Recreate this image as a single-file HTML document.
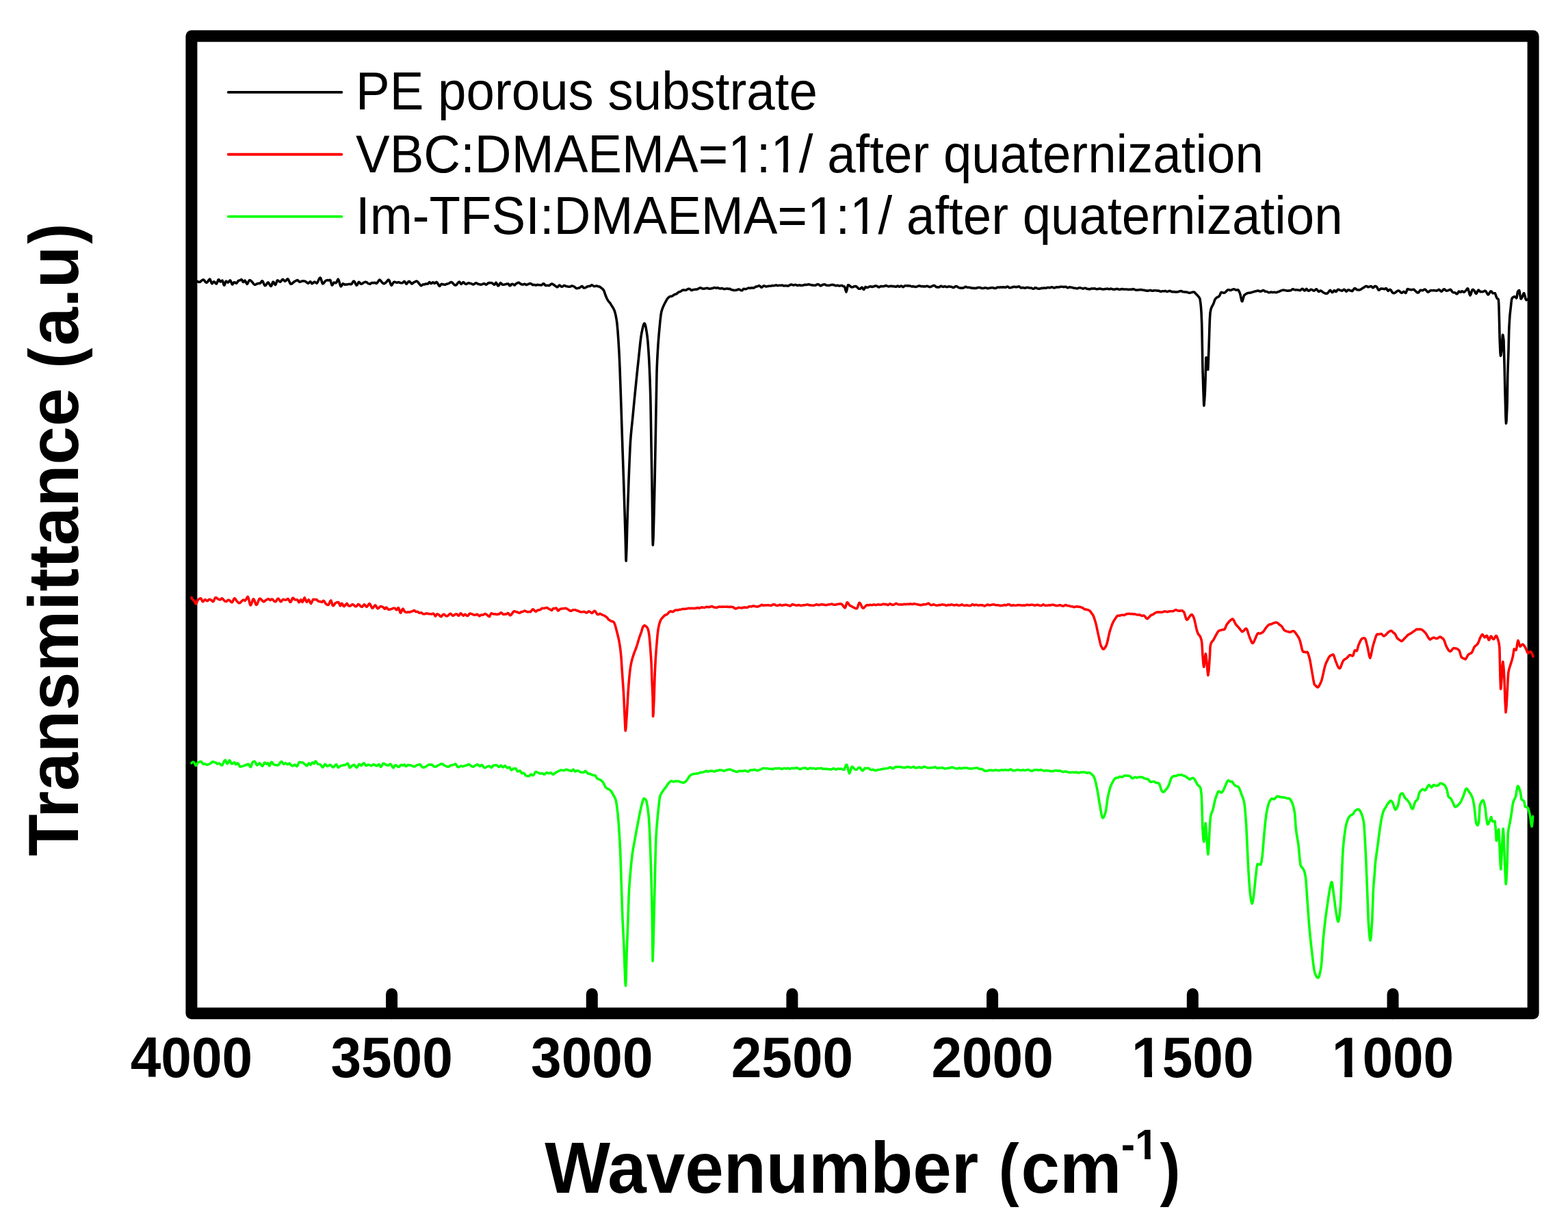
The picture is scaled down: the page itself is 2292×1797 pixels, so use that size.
<!DOCTYPE html>
<html><head><meta charset="utf-8"><title>FTIR</title>
<style>
html,body{margin:0;padding:0;background:#fff;width:2292px;height:1797px;overflow:hidden}
svg{display:block}
.reg{font-family:"Liberation Sans",Arial,sans-serif;font-weight:400}
.bold{font-family:"Liberation Sans",Arial,sans-serif;font-weight:700}
</style></head><body>
<svg width="2292" height="1797" viewBox="0 0 2292 1797">
<rect x="0" y="0" width="2292" height="1797" fill="#fff"/>
<g fill="none" stroke="#000" stroke-width="17" stroke-linejoin="round" stroke-linecap="round">
<rect x="279.9" y="52.8" width="1961.2" height="1428.9"/>
<line x1="572.6" y1="1481.7" x2="572.6" y2="1453.5"/><line x1="865.3" y1="1481.7" x2="865.3" y2="1453.5"/><line x1="1157.9" y1="1481.7" x2="1157.9" y2="1453.5"/><line x1="1450.6" y1="1481.7" x2="1450.6" y2="1453.5"/><line x1="1743.3" y1="1481.7" x2="1743.3" y2="1453.5"/><line x1="2036.0" y1="1481.7" x2="2036.0" y2="1453.5"/>
</g>
<g fill="none" stroke-width="3.6" stroke-linejoin="round" stroke-linecap="round">
<path stroke="#000" d="M280.0 410.8L281.0 410.9 282.0 411.2 283.0 411.6 284.0 411.9 285.0 412.0 286.0 411.9 287.0 411.7 288.0 411.5 288.3 411.4 289.0 411.5 290.0 412.2 291.0 412.5 292.0 412.3 293.0 411.8 294.0 410.9 295.0 410.0 296.0 409.4 297.0 409.0 298.0 409.3 299.0 410.5 300.0 411.9 301.0 412.9 301.6 413.2 302.0 413.2 303.0 412.6 304.0 411.3 305.0 409.9 306.0 408.7 306.6 408.2 307.0 408.4 308.0 410.7 309.0 413.5 309.8 414.7 310.0 414.7 311.0 413.7 312.0 412.2 312.6 411.8 313.0 411.8 314.0 412.6 315.0 413.9 316.0 414.9 316.3 415.0 317.0 414.2 318.0 411.6 319.0 409.2 319.5 408.8 320.0 409.0 321.0 410.6 322.0 411.9 322.2 412.0 323.0 411.6 324.0 410.6 325.0 410.1 326.0 412.4 327.0 416.2 327.7 417.1 328.0 417.0 329.0 414.5 330.0 411.6 330.5 411.2 331.0 411.5 332.0 412.4 333.0 413.1 333.2 413.1 334.0 412.5 335.0 411.1 336.0 410.0 336.4 409.8 337.0 410.5 338.0 412.8 339.0 415.2 339.7 415.9 340.0 415.9 341.0 414.3 342.0 412.7 342.4 412.7 343.0 412.8 344.0 413.4 345.0 414.1 345.6 414.1 346.0 413.9 347.0 412.6 348.0 410.9 348.8 410.3 349.0 410.3 350.0 410.1 351.0 409.8 352.0 409.2 353.0 408.6 354.0 409.8 355.0 412.0 355.7 412.5 356.0 412.5 357.0 411.0 358.0 410.1 359.0 411.6 360.0 413.8 361.0 415.2 361.2 415.3 362.0 414.3 363.0 412.4 364.0 410.5 364.9 409.6 365.0 409.6 366.0 409.9 367.0 410.6 368.0 411.7 369.0 412.9 370.0 414.2 371.0 415.4 372.0 416.2 372.7 416.3 373.0 416.3 374.0 415.9 375.0 415.4 376.0 414.8 376.4 414.7 377.0 414.5 378.0 414.4 379.0 414.4 380.0 414.3 381.0 413.4 382.0 411.9 383.0 410.8 383.3 410.8 384.0 411.3 385.0 413.3 386.0 415.8 387.0 417.4 387.4 417.6 388.0 417.4 389.0 416.4 390.0 414.9 391.0 413.5 392.0 412.9 393.0 414.0 394.0 415.8 395.0 417.5 396.0 418.5 396.1 418.5 397.0 417.3 398.0 414.4 399.0 412.2 399.3 412.1 400.0 412.6 401.0 414.6 402.0 416.2 402.5 416.4 403.0 415.9 404.0 413.3 405.0 410.5 405.7 409.8 406.0 410.0 407.0 410.6 408.0 411.4 409.0 412.0 409.9 412.1 410.0 412.0 411.0 411.0 412.0 409.5 413.0 408.5 413.5 408.6 414.0 408.7 415.0 409.8 416.0 411.0 416.8 411.1 417.0 411.1 418.0 410.3 419.0 409.1 420.0 408.1 420.4 407.9 421.0 408.2 422.0 409.8 423.0 412.0 424.0 414.1 425.0 415.3 426.0 415.1 427.0 414.5 428.0 413.7 429.0 412.8 430.0 411.9 430.5 411.6 431.0 411.4 432.0 410.9 433.0 410.3 434.0 409.8 435.0 409.6 435.1 409.6 436.0 410.3 437.0 411.6 437.9 412.2 438.0 412.2 439.0 411.9 440.0 411.7 441.0 411.3 442.0 411.0 443.0 410.9 443.4 410.9 444.0 410.9 445.0 411.1 446.0 411.3 447.0 411.8 448.0 412.6 449.0 413.5 450.0 414.1 450.7 414.2 451.0 414.1 452.0 412.9 453.0 411.9 453.5 411.8 454.0 412.0 455.0 413.6 456.0 414.7 456.2 414.7 457.0 414.2 458.0 413.3 459.0 412.4 459.9 412.1 460.0 412.1 461.0 412.8 462.0 413.7 463.0 414.1 463.1 414.1 464.0 413.1 465.0 411.0 466.0 408.7 467.0 406.9 468.0 406.1 468.2 406.1 469.0 407.2 470.0 410.5 471.0 413.7 471.8 414.9 472.0 414.9 473.0 414.2 474.0 412.9 475.0 411.6 476.0 410.6 476.4 410.4 477.0 410.1 478.0 409.8 479.0 409.6 480.0 410.0 481.0 409.8 482.0 409.2 482.3 409.2 483.0 410.0 484.0 413.5 485.0 416.6 485.5 417.0 486.0 416.6 487.0 414.8 488.0 413.1 488.7 413.1 489.0 413.3 490.0 413.6 491.0 413.6 491.5 413.3 492.0 412.6 493.0 410.4 494.0 408.4 494.2 408.2 495.0 409.4 496.0 412.5 497.0 416.1 498.0 418.5 498.4 418.8 499.0 418.4 500.0 416.5 501.0 414.8 501.6 414.8 502.0 414.8 503.0 415.6 504.0 416.2 504.3 416.2 505.0 416.0 506.0 416.0 507.0 416.0 508.0 415.7 509.0 415.5 510.0 415.5 511.0 415.4 512.0 415.5 513.0 415.8 514.0 415.2 515.0 413.6 516.0 411.9 517.0 411.0 517.2 411.0 518.0 411.7 519.0 413.5 520.0 415.5 521.0 417.0 521.3 417.2 522.0 416.6 523.0 414.8 524.0 412.9 524.5 412.3 525.0 412.4 526.0 413.5 527.0 414.6 527.3 414.9 528.0 415.3 529.0 415.1 530.0 414.4 531.0 413.6 532.0 413.0 533.0 412.5 533.2 412.5 534.0 412.3 535.0 412.3 536.0 412.7 537.0 413.6 538.0 414.4 539.0 414.8 540.0 415.1 540.6 415.3 541.0 415.2 542.0 414.5 543.0 413.7 544.0 413.4 544.2 413.4 545.0 413.6 546.0 413.7 547.0 413.4 548.0 413.3 549.0 413.9 549.8 414.4 550.0 414.5 551.0 414.0 552.0 412.7 553.0 411.1 554.0 409.7 554.8 409.1 555.0 409.1 556.0 409.9 557.0 411.1 558.0 412.4 559.0 413.4 560.0 414.3 560.3 414.5 561.0 414.7 562.0 414.6 563.0 413.8 564.0 413.0 564.4 412.7 565.0 412.2 566.0 410.8 567.0 409.5 568.0 409.1 568.1 409.2 569.0 410.2 570.0 412.7 571.0 415.3 572.0 417.0 572.2 417.2 573.0 416.7 574.0 414.9 575.0 413.1 575.5 412.7 576.0 412.4 577.0 412.3 578.0 412.5 579.0 413.0 580.0 413.3 581.0 413.2 582.0 412.7 583.0 412.6 584.0 413.1 585.0 413.6 586.0 413.8 587.0 413.8 587.8 413.8 588.0 413.8 589.0 413.1 590.0 412.0 591.0 411.4 591.1 411.4 592.0 412.5 593.0 414.1 594.0 415.2 594.3 415.2 595.0 414.5 596.0 413.1 597.0 411.8 597.9 411.4 598.0 411.4 599.0 411.9 600.0 413.0 601.0 414.2 602.0 415.0 602.1 415.0 603.0 414.4 604.0 413.5 605.0 412.8 606.0 412.4 607.0 411.9 607.6 411.5 608.0 411.2 609.0 411.1 610.0 411.6 611.0 412.5 612.0 413.8 613.0 415.1 614.0 416.4 615.0 417.5 615.4 417.7 616.0 417.6 617.0 416.9 618.0 416.1 619.0 415.9 619.5 415.9 620.0 416.0 621.0 415.7 622.0 415.1 623.0 414.9 624.0 415.2 625.0 415.3 626.0 414.4 627.0 413.1 627.8 412.6 628.0 412.6 629.0 413.7 630.0 414.6 630.1 414.6 631.0 414.3 632.0 413.2 632.8 412.8 633.0 412.8 634.0 413.5 635.0 414.4 635.1 414.4 636.0 414.1 637.0 413.1 637.9 412.5 638.0 412.4 639.0 413.2 640.0 414.8 641.0 416.6 642.0 418.0 642.5 418.4 643.0 418.1 644.0 416.6 645.0 415.4 645.2 415.2 646.0 415.3 647.0 415.8 648.0 415.9 649.0 416.0 650.0 416.2 651.0 416.1 652.0 415.6 652.6 415.3 653.0 415.2 654.0 415.0 655.0 414.7 656.0 414.3 657.0 413.8 658.0 413.1 659.0 412.6 660.0 412.5 661.0 413.0 662.0 414.1 663.0 415.3 664.0 416.3 665.0 416.9 666.0 417.0 666.3 417.0 667.0 416.6 668.0 415.5 669.0 414.1 670.0 412.9 671.0 412.2 671.4 412.1 672.0 412.5 673.0 414.2 674.0 415.4 674.1 415.4 675.0 414.8 676.0 413.8 677.0 412.8 677.3 412.6 678.0 412.9 679.0 414.1 680.0 415.0 681.0 415.4 682.0 415.4 683.0 414.7 684.0 414.0 685.0 413.8 686.0 414.0 687.0 414.3 688.0 414.5 688.7 414.7 689.0 414.8 690.0 415.2 691.0 415.8 691.9 416.0 692.0 416.0 693.0 415.5 694.0 414.8 695.0 414.0 695.1 414.0 696.0 413.7 697.0 414.1 698.0 414.8 699.0 415.4 699.7 415.5 700.0 415.5 701.0 415.7 702.0 416.0 703.0 416.2 704.0 416.0 705.0 415.5 706.0 415.1 707.0 414.8 707.5 414.7 708.0 414.6 709.0 415.3 710.0 416.0 710.3 416.0 711.0 416.1 712.0 415.4 713.0 414.4 714.0 413.6 714.9 413.5 715.0 413.5 716.0 413.6 717.0 413.5 718.0 413.5 718.5 413.6 719.0 413.8 720.0 414.5 721.0 415.2 722.0 416.0 722.7 416.2 723.0 416.0 724.0 414.5 725.0 413.2 726.0 414.2 727.0 416.4 728.0 417.9 728.2 417.9 729.0 417.6 730.0 415.8 731.0 414.1 731.9 413.7 732.0 413.8 733.0 414.6 734.0 415.8 735.0 416.3 735.1 416.3 736.0 416.2 737.0 416.1 738.0 415.9 738.7 415.7 739.0 415.7 740.0 415.3 741.0 415.1 742.0 415.0 743.0 415.0 743.3 415.1 744.0 416.1 745.0 417.8 745.2 417.8 746.0 417.6 747.0 416.3 748.0 415.4 748.4 415.3 749.0 415.3 750.0 415.6 751.0 416.3 752.0 417.0 752.1 417.0 753.0 416.3 754.0 415.2 755.0 414.4 755.3 414.3 756.0 414.0 757.0 413.4 758.0 413.1 758.9 413.5 759.0 413.5 760.0 414.4 761.0 415.2 762.0 415.7 762.6 415.9 763.0 415.9 764.0 416.1 765.0 415.9 766.0 415.4 767.0 415.2 767.7 415.5 768.0 415.8 769.0 416.4 770.0 416.4 771.0 416.0 771.8 415.6 772.0 415.5 773.0 415.1 774.0 414.8 775.0 414.6 775.5 414.6 776.0 414.7 777.0 415.3 778.0 416.2 779.0 416.7 780.0 416.5 781.0 416.3 782.0 416.7 783.0 417.1 784.0 416.9 785.0 416.5 785.6 416.4 786.0 416.4 787.0 416.5 788.0 416.7 789.0 416.8 790.0 416.7 791.0 416.9 791.1 416.9 792.0 416.7 793.0 415.7 794.0 414.8 794.3 414.7 795.0 414.7 796.0 415.9 797.0 417.1 797.5 417.4 798.0 417.4 799.0 417.5 800.0 417.3 801.0 417.3 802.0 417.6 802.1 417.6 803.0 417.5 804.0 416.7 805.0 415.8 806.0 415.1 806.2 415.0 807.0 415.1 808.0 415.5 809.0 416.1 810.0 416.8 810.3 417.0 811.0 417.5 812.0 418.3 813.0 419.0 814.0 419.6 814.5 419.8 815.0 419.7 816.0 418.6 817.0 417.4 817.7 417.0 818.0 417.1 819.0 417.7 820.0 418.7 821.0 419.3 821.3 419.3 822.0 419.1 823.0 418.4 824.0 417.7 825.0 417.4 826.0 417.8 827.0 418.4 828.0 418.7 829.0 418.8 830.0 419.0 830.5 419.1 831.0 419.3 832.0 419.3 833.0 419.2 834.0 418.9 835.0 418.3 835.1 418.3 836.0 418.1 837.0 418.3 838.0 418.6 839.0 418.9 840.0 419.6 841.0 420.5 841.5 421.0 842.0 421.4 843.0 421.7 844.0 421.5 845.0 421.2 846.0 421.1 846.1 421.1 847.0 420.9 848.0 420.2 849.0 419.4 850.0 418.7 850.3 418.5 851.0 418.6 852.0 419.6 853.0 420.8 853.5 421.0 854.0 421.0 855.0 420.8 856.0 420.5 857.0 420.0 858.0 419.3 858.1 419.2 859.0 418.8 860.0 418.6 861.0 418.5 862.0 418.4 862.7 418.4 863.0 418.3 864.0 417.3 864.9 416.6 865.0 416.7 866.0 417.1 867.0 417.9 868.0 418.6 868.2 418.6 869.0 418.6 870.0 418.4 871.0 418.2 871.8 418.1 872.0 418.1 873.0 418.2 874.0 418.7 875.0 419.0 875.5 418.9 876.0 419.0 876.4 419.2 877.0 419.5 878.0 420.3 879.0 421.0 880.0 421.8 881.0 422.7 882.0 423.8 883.0 425.6 884.0 428.4 885.0 431.5 885.6 433.1 886.0 434.0 887.0 436.3 888.0 438.3 889.0 439.9 890.0 441.1 891.0 442.2 891.1 442.3 892.0 443.6 893.0 445.1 894.0 446.7 895.0 448.2 895.5 449.1 896.0 449.9 897.0 451.7 898.0 453.9 898.1 454.1 899.0 456.9 900.0 461.0 901.0 466.3 901.6 470.2 902.0 473.3 903.0 484.2 904.0 498.6 905.0 515.5 905.1 517.3 906.0 537.7 907.0 566.1 907.5 580.5 908.0 595.2 909.0 626.2 909.8 650.8 910.0 656.8 911.0 685.6 912.0 714.9 912.2 721.0 913.0 746.5 914.0 779.6 915.0 818.0 915.2 820.2 916.0 800.2 916.8 768.0 917.0 761.8 918.0 731.2 919.0 702.8 919.2 697.6 920.0 677.2 921.0 654.6 921.5 645.9 922.0 639.1 923.0 627.9 924.0 618.4 925.0 608.6 926.0 597.9 927.0 587.4 928.0 577.2 928.6 571.2 929.0 567.2 930.0 557.3 931.0 547.5 932.0 537.8 933.0 528.5 933.2 526.7 934.0 519.1 935.0 509.5 936.0 500.3 937.0 492.3 937.9 486.9 938.0 486.5 939.0 481.5 940.0 477.1 941.0 474.0 941.9 472.8 942.0 472.8 943.0 474.2 944.0 478.3 945.0 484.1 946.0 490.8 946.1 491.5 947.0 500.0 948.0 513.8 948.5 521.9 949.0 531.1 950.0 554.6 950.8 580.5 951.0 589.2 952.0 650.8 953.0 708.6 953.2 721.0 954.0 786.9 954.3 797.0 955.0 787.1 956.0 750.6 956.7 721.0 957.0 707.9 958.0 654.7 958.5 627.4 959.0 598.5 960.0 544.8 960.2 538.4 961.0 520.3 962.0 503.6 963.0 490.9 963.7 483.0 964.0 479.7 965.0 469.2 966.0 460.6 966.8 456.0 967.0 455.2 968.0 451.9 969.0 449.4 970.0 447.1 970.5 446.0 971.0 445.0 972.0 443.0 973.0 441.2 974.0 439.3 975.0 437.5 975.5 436.8 976.0 436.2 977.0 435.1 978.0 434.3 979.0 433.7 980.0 433.4 981.0 433.4 982.0 433.1 983.0 432.6 984.0 432.0 985.0 431.3 986.0 430.6 987.0 430.3 988.0 430.1 989.0 429.7 990.0 428.8 991.0 427.8 992.0 427.1 993.0 426.8 994.0 426.6 995.0 426.2 996.0 425.4 997.0 424.6 997.6 424.3 998.0 424.1 999.0 424.0 1000.0 424.1 1001.0 424.3 1002.0 424.4 1003.0 424.1 1004.0 423.5 1005.0 422.9 1006.0 422.5 1007.0 422.2 1008.0 422.4 1009.0 423.1 1010.0 424.1 1010.4 424.4 1011.0 424.6 1012.0 424.2 1013.0 423.7 1014.0 423.5 1015.0 423.4 1016.0 423.2 1017.0 423.0 1018.0 423.1 1019.0 423.0 1020.0 422.6 1021.0 422.0 1022.0 421.4 1023.0 421.0 1024.0 420.8 1025.0 421.1 1026.0 421.7 1027.0 422.1 1028.0 422.2 1029.0 422.1 1030.0 422.0 1031.0 421.8 1032.0 421.6 1033.0 421.3 1034.0 421.3 1035.0 421.6 1036.0 422.1 1037.0 422.3 1038.0 422.3 1039.0 422.1 1040.0 421.8 1041.0 421.6 1042.0 421.4 1043.0 421.0 1044.0 420.6 1045.0 420.6 1046.0 420.9 1047.0 421.2 1048.0 420.9 1049.0 420.7 1050.0 421.0 1051.0 421.6 1052.0 421.9 1053.0 421.9 1054.0 421.7 1055.0 421.5 1056.0 421.6 1057.0 422.1 1058.0 422.5 1059.0 422.6 1060.0 422.5 1061.0 422.2 1062.0 422.0 1063.0 422.0 1064.0 422.3 1065.0 422.4 1066.0 422.3 1067.0 422.4 1068.0 423.0 1069.0 423.6 1070.0 423.7 1071.0 423.9 1072.0 424.2 1073.0 424.4 1074.0 424.5 1075.0 424.4 1076.0 424.3 1077.0 424.1 1078.0 423.6 1079.0 423.1 1080.0 423.0 1081.0 423.4 1082.0 424.0 1083.0 424.5 1084.0 424.8 1085.0 424.5 1086.0 423.3 1087.0 422.4 1088.0 422.3 1089.0 422.7 1090.0 422.7 1091.0 422.4 1092.0 422.0 1093.0 421.5 1094.0 421.0 1095.0 421.1 1096.0 421.4 1097.0 421.3 1098.0 420.9 1099.0 420.7 1100.0 420.9 1101.0 421.1 1102.0 420.9 1103.0 420.4 1103.9 419.7 1104.0 419.6 1105.0 419.1 1106.0 419.0 1107.0 418.7 1108.0 418.3 1109.0 417.9 1110.0 417.9 1111.0 418.5 1112.0 419.5 1113.0 420.2 1114.0 419.9 1115.0 418.9 1116.0 418.1 1117.0 417.9 1118.0 418.2 1119.0 418.8 1120.0 419.0 1121.0 418.9 1122.0 418.6 1123.0 418.4 1124.0 418.2 1125.0 418.2 1126.0 418.3 1127.0 418.2 1128.0 417.8 1129.0 417.6 1130.0 417.7 1131.0 417.7 1132.0 417.5 1133.0 417.2 1134.0 417.0 1135.0 417.0 1136.0 417.4 1137.0 417.6 1138.0 417.5 1138.7 417.3 1139.0 417.2 1140.0 417.2 1141.0 417.3 1142.0 417.2 1143.0 417.0 1144.0 417.2 1145.0 417.7 1146.0 418.0 1147.0 417.9 1148.0 417.6 1149.0 417.6 1150.0 417.9 1151.0 418.1 1152.0 418.0 1153.0 417.7 1154.0 417.2 1155.0 416.5 1156.0 416.0 1157.0 416.1 1158.0 416.5 1159.0 416.8 1160.0 416.9 1161.0 416.7 1162.0 416.5 1163.0 416.4 1164.0 416.7 1165.0 417.2 1166.0 417.5 1167.0 417.2 1168.0 416.9 1169.0 416.8 1170.0 417.1 1171.0 417.5 1172.0 417.4 1173.0 417.2 1174.0 417.1 1175.0 416.8 1176.0 416.4 1177.0 416.3 1178.0 416.4 1179.0 416.4 1180.0 416.2 1181.0 415.9 1182.0 415.8 1183.0 415.9 1184.0 416.2 1185.0 416.4 1186.0 416.7 1187.0 416.9 1188.0 417.0 1189.0 417.1 1190.0 417.2 1191.0 417.3 1192.0 417.2 1193.0 416.6 1194.0 416.0 1195.0 415.8 1196.0 415.8 1197.0 416.1 1198.0 417.0 1199.0 417.8 1200.0 417.9 1201.0 417.2 1202.0 416.5 1203.0 416.2 1204.0 416.0 1205.0 415.9 1206.0 416.0 1207.0 416.6 1208.0 417.1 1209.0 417.2 1210.0 417.3 1211.0 417.5 1212.0 417.4 1213.0 417.1 1214.0 416.8 1215.0 416.6 1216.0 416.4 1217.0 416.4 1218.0 416.5 1219.0 416.7 1220.0 417.1 1221.0 417.6 1222.0 417.7 1223.0 417.4 1224.0 417.2 1225.0 417.5 1226.0 417.8 1227.0 418.1 1228.0 417.9 1229.0 417.6 1230.0 417.4 1231.0 417.7 1232.0 418.2 1233.0 418.8 1234.0 419.0 1234.2 418.9 1235.0 420.3 1236.0 424.3 1237.0 426.8 1238.0 423.6 1239.0 418.4 1239.7 416.8 1240.0 416.7 1241.0 417.0 1242.0 417.8 1243.0 418.7 1244.0 419.5 1245.0 419.9 1246.0 419.9 1247.0 419.6 1248.0 419.1 1249.0 418.7 1250.0 418.5 1251.0 418.6 1252.0 419.1 1253.0 420.1 1254.0 421.1 1255.0 422.0 1256.0 422.3 1257.0 422.3 1258.0 421.9 1259.0 420.7 1260.0 420.1 1261.0 421.2 1262.0 423.0 1262.7 423.3 1263.0 423.2 1264.0 421.4 1265.0 419.6 1265.4 419.5 1266.0 420.0 1267.0 420.4 1268.0 420.4 1269.0 420.1 1270.0 419.5 1271.0 419.1 1272.0 418.8 1273.0 418.9 1274.0 419.3 1275.0 419.4 1276.0 419.3 1277.0 418.9 1278.0 418.5 1279.0 418.1 1280.0 418.0 1281.0 418.1 1282.0 418.4 1283.0 419.0 1284.0 419.8 1285.0 420.0 1286.0 419.5 1287.0 418.8 1288.0 418.5 1289.0 418.6 1290.0 418.7 1291.0 418.7 1292.0 418.6 1293.0 418.3 1294.0 417.8 1295.0 417.6 1296.0 417.8 1297.0 418.3 1298.0 418.7 1299.0 418.9 1300.0 418.8 1301.0 418.5 1302.0 418.2 1303.0 418.3 1304.0 418.6 1305.0 418.6 1306.0 418.5 1307.0 418.7 1308.0 419.0 1309.0 419.3 1310.0 419.2 1311.0 418.6 1312.0 418.0 1313.0 418.3 1314.0 419.1 1315.0 419.3 1316.0 418.6 1317.0 418.0 1318.0 418.2 1318.6 418.7 1319.0 419.1 1320.0 419.6 1321.0 419.1 1322.0 418.3 1323.0 417.8 1324.0 417.7 1325.0 417.8 1326.0 417.9 1327.0 417.9 1328.0 417.8 1329.0 417.9 1330.0 418.1 1331.0 418.3 1332.0 418.7 1333.0 418.9 1334.0 418.9 1335.0 418.8 1336.0 418.9 1337.0 419.2 1338.0 419.4 1339.0 419.4 1340.0 419.1 1341.0 418.7 1342.0 418.4 1343.0 418.0 1344.0 417.9 1345.0 418.2 1346.0 418.7 1347.0 418.7 1348.0 418.6 1349.0 418.8 1350.0 419.0 1351.0 418.9 1352.0 418.9 1353.0 418.8 1354.0 418.5 1355.0 418.3 1356.0 418.5 1357.0 418.9 1358.0 419.4 1359.0 419.6 1360.0 419.5 1361.0 419.1 1362.0 418.6 1363.0 418.2 1364.0 417.7 1365.0 417.4 1366.0 417.6 1367.0 418.3 1368.0 419.3 1369.0 419.8 1370.0 419.9 1371.0 419.9 1372.0 420.0 1373.0 419.8 1373.7 419.2 1374.0 419.0 1375.0 418.3 1376.0 418.3 1377.0 418.8 1378.0 419.3 1379.0 419.5 1380.0 419.0 1381.0 418.7 1382.0 418.8 1383.0 419.3 1384.0 419.7 1385.0 419.5 1386.0 419.1 1387.0 418.9 1388.0 419.0 1389.0 419.1 1390.0 419.2 1391.0 419.4 1392.0 419.8 1393.0 420.4 1394.0 420.5 1395.0 420.0 1396.0 419.2 1397.0 418.7 1398.0 418.6 1399.0 419.0 1400.0 419.6 1401.0 420.3 1402.0 420.7 1403.0 421.0 1404.0 421.1 1405.0 421.1 1406.0 421.0 1407.0 421.1 1408.0 421.0 1409.0 420.6 1410.0 419.9 1411.0 419.4 1412.0 419.4 1413.0 419.9 1414.0 420.3 1415.0 420.3 1416.0 420.2 1417.0 420.2 1418.0 420.5 1419.0 420.9 1420.0 421.1 1421.0 421.1 1422.0 421.3 1423.0 421.4 1424.0 421.3 1425.0 421.4 1426.0 421.5 1427.0 421.4 1428.0 421.0 1429.0 420.6 1430.0 420.5 1431.0 420.4 1432.0 420.5 1433.0 420.6 1434.0 421.0 1435.0 421.4 1436.0 421.6 1437.0 421.4 1438.0 421.2 1439.0 421.0 1439.8 420.8 1440.0 420.8 1441.0 420.8 1442.0 421.2 1443.0 421.6 1444.0 421.7 1445.0 421.4 1446.0 421.2 1447.0 421.1 1448.0 420.9 1449.0 420.7 1450.0 420.6 1451.0 420.7 1452.0 420.9 1453.0 421.2 1454.0 421.5 1455.0 421.5 1456.0 421.2 1457.0 420.7 1458.0 420.2 1459.0 419.9 1460.0 420.1 1461.0 420.2 1462.0 420.0 1463.0 419.9 1464.0 420.1 1465.0 420.1 1466.0 419.8 1467.0 419.8 1468.0 420.1 1469.0 420.3 1470.0 420.2 1471.0 419.7 1472.0 419.2 1473.0 419.1 1474.0 419.7 1475.0 420.5 1476.0 420.8 1477.0 420.7 1478.0 420.4 1479.0 420.3 1480.0 419.9 1481.0 419.5 1482.0 419.3 1483.0 419.4 1484.0 419.6 1485.0 419.6 1486.0 419.6 1487.0 419.6 1488.0 419.3 1489.0 418.9 1490.0 419.0 1491.0 419.9 1492.0 420.8 1493.0 420.9 1494.0 420.7 1495.0 420.4 1496.0 420.7 1497.0 421.1 1498.0 421.3 1499.0 421.1 1500.0 420.7 1501.0 420.4 1502.0 420.3 1503.0 420.5 1504.0 420.8 1505.0 421.0 1506.0 421.0 1507.0 421.0 1508.0 421.3 1509.0 421.9 1510.0 422.2 1511.0 422.1 1512.0 421.5 1513.0 420.8 1514.0 420.7 1515.0 421.2 1516.0 421.8 1516.7 422.0 1517.0 422.0 1518.0 422.1 1519.0 422.2 1520.0 422.1 1521.0 421.8 1522.0 421.5 1523.0 421.3 1524.0 421.4 1525.0 421.3 1526.0 421.0 1527.0 421.1 1528.0 421.3 1529.0 421.3 1530.0 420.9 1531.0 420.5 1532.0 420.4 1533.0 420.5 1534.0 420.7 1535.0 420.6 1536.0 420.2 1537.0 419.9 1538.0 419.8 1539.0 420.2 1540.0 420.7 1541.0 421.0 1542.0 420.8 1543.0 420.2 1544.0 419.8 1545.0 419.8 1546.0 420.0 1547.0 420.0 1548.0 419.8 1549.0 419.6 1549.8 419.5 1550.0 419.4 1551.0 419.3 1552.0 419.2 1553.0 419.3 1554.0 419.5 1555.0 419.6 1556.0 419.5 1557.0 419.3 1558.0 419.3 1559.0 419.9 1560.0 420.7 1561.0 420.8 1562.0 420.3 1563.0 419.8 1564.0 419.9 1565.0 420.1 1566.0 420.3 1567.0 420.3 1568.0 420.6 1569.0 421.0 1570.0 421.2 1571.0 421.3 1572.0 421.4 1573.0 421.6 1574.0 421.9 1575.0 421.8 1576.0 421.4 1577.0 420.9 1578.0 420.7 1579.0 420.8 1580.0 421.1 1581.0 421.4 1582.0 421.8 1583.0 422.1 1584.0 421.9 1585.0 421.4 1586.0 421.1 1587.0 421.4 1588.0 422.0 1589.0 422.4 1590.0 422.5 1591.0 422.6 1592.0 422.8 1593.0 422.9 1594.0 422.5 1595.0 422.1 1596.0 421.9 1597.0 422.0 1598.0 422.1 1599.0 421.9 1600.0 421.8 1601.0 422.1 1602.0 422.5 1603.0 422.8 1604.0 422.7 1605.0 422.4 1606.0 422.2 1607.0 422.1 1608.0 422.1 1609.0 422.3 1610.0 422.6 1611.0 422.8 1612.0 423.0 1613.0 423.0 1614.0 422.8 1615.0 422.6 1616.0 422.6 1617.0 422.4 1618.0 422.1 1619.0 422.1 1620.0 422.5 1621.0 422.8 1622.0 422.8 1623.0 422.3 1624.0 422.1 1625.0 422.4 1626.0 422.8 1627.0 423.1 1628.0 423.1 1629.0 423.1 1630.0 423.0 1631.0 422.7 1632.0 422.4 1633.0 422.4 1634.0 422.6 1635.0 423.0 1636.0 423.3 1637.0 423.3 1638.0 423.0 1639.0 422.7 1640.0 422.5 1641.0 422.6 1642.0 422.9 1643.0 423.0 1644.0 423.0 1645.0 423.0 1645.2 423.0 1646.0 423.0 1647.0 423.0 1648.0 423.1 1649.0 423.4 1650.0 423.4 1651.0 423.2 1652.0 423.1 1653.0 423.3 1654.0 423.4 1655.0 423.0 1656.0 422.6 1657.0 422.7 1658.0 423.1 1659.0 423.6 1660.0 424.0 1661.0 424.1 1662.0 424.1 1663.0 424.0 1664.0 424.0 1665.0 423.9 1666.0 423.6 1667.0 423.5 1668.0 423.6 1669.0 423.7 1670.0 423.9 1671.0 424.2 1672.0 424.3 1673.0 424.4 1674.0 424.7 1675.0 425.0 1676.0 425.1 1677.0 425.0 1678.0 425.1 1679.0 425.0 1680.0 424.7 1681.0 424.4 1682.0 424.5 1683.0 424.9 1684.0 425.3 1685.0 425.3 1686.0 425.0 1687.0 424.7 1688.0 424.7 1689.0 424.8 1690.0 424.9 1691.0 425.0 1692.0 425.1 1693.0 425.0 1694.0 425.2 1695.0 425.7 1696.0 426.1 1697.0 426.1 1698.0 426.0 1699.0 425.8 1700.0 425.8 1700.3 425.8 1701.0 425.8 1702.0 425.7 1703.0 425.4 1704.0 425.5 1705.0 426.1 1706.0 426.4 1707.0 426.2 1708.0 425.8 1709.0 425.5 1710.0 425.4 1711.0 425.6 1712.0 426.2 1713.0 426.7 1714.0 426.8 1715.0 426.6 1716.0 426.6 1717.0 426.8 1718.0 426.9 1719.0 426.9 1720.0 426.8 1721.0 426.9 1722.0 426.7 1723.0 426.3 1724.0 426.0 1725.0 425.8 1726.0 425.6 1727.0 425.6 1728.0 426.1 1729.0 426.7 1730.0 426.8 1731.0 426.7 1732.0 426.9 1733.0 427.1 1734.0 427.1 1735.0 427.1 1736.0 427.5 1737.0 428.0 1738.0 428.2 1739.0 428.2 1739.7 428.1 1740.0 428.0 1741.0 427.8 1742.0 427.6 1743.0 427.3 1744.0 427.0 1745.0 427.0 1745.5 427.1 1746.0 427.4 1747.0 428.3 1748.0 429.5 1749.0 430.6 1750.0 431.6 1750.2 431.8 1751.0 432.6 1752.0 433.7 1753.0 435.1 1753.8 436.6 1754.0 437.2 1755.0 444.1 1755.5 449.3 1756.0 456.4 1756.7 472.7 1757.0 485.5 1757.3 502.0 1757.9 537.0 1758.0 541.1 1759.0 572.2 1759.8 593.2 1760.0 592.7 1761.0 579.7 1761.4 572.2 1762.0 555.4 1762.2 548.8 1762.9 522.9 1763.0 522.8 1764.0 522.9 1764.3 523.0 1765.0 531.7 1765.7 540.5 1766.0 536.3 1766.4 525.4 1767.0 508.6 1767.6 490.3 1768.0 477.6 1768.4 466.8 1769.0 457.4 1770.0 452.2 1770.7 450.2 1771.0 449.4 1772.0 447.4 1773.0 445.7 1773.7 444.4 1774.0 443.7 1775.0 440.5 1776.0 437.9 1777.0 436.5 1778.0 435.5 1778.4 435.2 1779.0 434.9 1780.0 434.4 1781.0 433.9 1781.9 433.3 1782.0 433.2 1783.0 431.6 1784.0 429.2 1785.0 427.5 1785.4 427.3 1786.0 427.5 1787.0 427.8 1788.0 428.0 1788.9 428.2 1789.0 428.2 1790.0 428.0 1791.0 427.4 1792.0 426.4 1793.0 425.3 1794.0 424.4 1795.0 423.8 1796.0 423.7 1797.0 423.9 1797.6 424.2 1798.0 424.4 1799.0 424.5 1800.0 424.0 1801.0 423.6 1802.0 423.2 1803.0 422.8 1804.0 422.8 1805.0 423.2 1806.0 423.8 1807.0 424.2 1808.0 424.1 1809.0 423.7 1809.5 423.7 1810.0 423.9 1811.0 425.5 1812.0 427.7 1812.3 428.4 1813.0 430.8 1814.0 435.7 1815.0 439.9 1815.6 440.7 1816.0 440.5 1817.0 437.2 1818.0 433.2 1818.7 431.8 1819.0 431.6 1820.0 430.7 1821.0 429.9 1822.0 429.4 1823.0 428.9 1824.0 428.5 1825.0 428.3 1825.1 428.3 1826.0 428.2 1827.0 428.1 1828.0 428.0 1829.0 427.8 1830.0 427.4 1831.0 427.0 1832.0 426.8 1833.0 426.5 1834.0 426.1 1835.0 425.9 1836.0 425.8 1837.0 425.5 1838.0 425.1 1839.0 425.0 1840.0 425.3 1841.0 425.8 1841.6 426.0 1842.0 426.0 1843.0 426.1 1844.0 425.8 1845.0 425.1 1846.0 424.5 1847.0 424.6 1848.0 425.2 1849.0 426.0 1850.0 426.3 1851.0 426.3 1852.0 426.5 1853.0 427.0 1854.0 427.5 1855.0 427.8 1856.0 427.7 1857.0 427.3 1858.0 427.1 1858.2 427.1 1859.0 427.3 1860.0 427.5 1861.0 427.4 1862.0 427.3 1863.0 427.3 1864.0 427.5 1865.0 427.6 1866.0 427.5 1867.0 427.1 1868.0 426.7 1869.0 426.5 1870.0 426.2 1871.0 425.7 1872.0 425.2 1873.0 424.8 1874.0 424.4 1875.0 424.2 1876.0 424.1 1877.0 424.2 1878.0 424.4 1879.0 424.6 1880.0 424.7 1881.0 425.0 1882.0 425.3 1882.5 425.3 1883.0 425.2 1884.0 424.9 1885.0 424.8 1885.8 424.9 1886.0 424.9 1887.0 424.6 1888.0 423.9 1889.0 423.0 1889.9 422.7 1890.0 422.7 1891.0 423.2 1892.0 423.6 1893.0 423.9 1894.0 423.9 1895.0 423.8 1896.0 423.8 1896.5 423.9 1897.0 424.1 1898.0 424.2 1899.0 424.3 1899.8 424.5 1900.0 424.6 1901.0 424.3 1902.0 423.4 1903.0 422.5 1903.5 422.3 1904.0 422.3 1905.0 423.2 1906.0 424.4 1907.0 425.0 1907.3 424.9 1908.0 424.4 1909.0 422.9 1909.7 422.3 1910.0 422.5 1911.0 423.6 1912.0 424.8 1913.0 425.3 1914.0 424.9 1915.0 424.0 1916.0 423.3 1916.3 423.3 1917.0 423.4 1918.0 423.8 1919.0 424.4 1920.0 425.0 1921.0 425.1 1921.3 424.9 1922.0 424.3 1923.0 423.4 1924.0 422.9 1924.6 422.9 1925.0 423.3 1926.0 424.6 1927.0 426.0 1927.9 426.4 1928.0 426.4 1929.0 425.8 1930.0 425.1 1930.4 425.0 1931.0 425.2 1932.0 425.8 1933.0 426.7 1933.7 427.3 1934.0 427.4 1935.0 428.0 1936.0 428.5 1937.0 429.0 1938.0 429.3 1939.0 429.3 1940.0 429.0 1941.0 428.3 1941.1 428.2 1942.0 427.0 1943.0 425.4 1944.0 424.4 1944.4 424.3 1945.0 424.8 1946.0 426.1 1947.0 427.4 1947.7 427.5 1948.0 427.4 1949.0 426.2 1950.0 424.9 1950.6 424.6 1951.0 424.9 1952.0 426.1 1952.7 426.5 1953.0 426.5 1954.0 425.5 1955.0 423.9 1956.0 423.2 1957.0 423.5 1958.0 424.0 1959.0 424.4 1960.0 424.8 1961.0 425.1 1961.8 425.2 1962.0 425.1 1963.0 424.4 1964.0 423.5 1965.0 423.2 1965.1 423.2 1966.0 424.2 1967.0 425.5 1968.0 426.1 1969.0 425.5 1970.0 424.2 1970.9 423.7 1971.0 423.7 1972.0 424.0 1973.0 424.6 1974.0 425.0 1974.2 425.0 1975.0 425.1 1976.0 425.5 1976.6 425.6 1977.0 425.4 1978.0 424.1 1979.0 422.5 1980.0 421.6 1981.0 421.8 1982.0 422.5 1983.0 423.3 1984.0 423.8 1984.1 423.8 1985.0 423.9 1986.0 424.0 1987.0 423.9 1988.0 423.7 1989.0 423.2 1990.0 422.6 1991.0 421.8 1992.0 421.2 1993.0 420.7 1993.2 420.6 1994.0 420.1 1995.0 419.3 1995.6 418.9 1996.0 418.7 1997.0 418.4 1998.0 418.6 1999.0 419.4 1999.8 419.8 2000.0 419.8 2001.0 419.6 2002.0 419.1 2003.0 418.7 2003.9 418.5 2004.0 418.5 2005.0 419.1 2006.0 420.1 2006.8 420.8 2007.0 420.8 2008.0 420.0 2009.0 419.0 2009.7 418.5 2010.0 418.4 2011.0 418.6 2012.0 419.2 2012.2 419.3 2013.0 420.4 2014.0 422.4 2015.0 424.0 2015.5 424.2 2016.0 424.1 2017.0 423.2 2018.0 422.3 2018.8 422.0 2019.0 422.0 2020.0 422.1 2021.0 422.2 2022.0 422.3 2023.0 422.6 2023.3 422.7 2024.0 422.7 2025.0 422.0 2026.0 421.6 2026.2 421.6 2027.0 422.3 2028.0 424.2 2029.0 425.4 2029.1 425.4 2030.0 424.6 2031.0 423.7 2032.0 423.3 2033.0 424.1 2034.0 425.6 2035.0 427.3 2036.0 428.3 2036.1 428.3 2037.0 428.6 2038.0 428.5 2039.0 428.1 2040.0 427.5 2040.3 427.3 2041.0 426.7 2042.0 425.9 2043.0 425.3 2044.0 425.0 2044.4 425.0 2045.0 425.2 2046.0 425.9 2047.0 427.0 2048.0 428.0 2048.9 428.2 2049.0 428.2 2050.0 427.6 2051.0 426.8 2051.8 426.4 2052.0 426.4 2053.0 427.1 2054.0 428.1 2054.7 428.5 2055.0 428.4 2056.0 426.0 2057.0 423.2 2057.6 422.5 2058.0 422.5 2059.0 423.0 2060.0 423.4 2061.0 423.5 2062.0 423.6 2063.0 423.7 2064.0 423.6 2065.0 423.4 2066.0 423.3 2066.4 423.3 2067.0 423.4 2068.0 424.4 2069.0 425.5 2070.0 426.4 2071.0 427.3 2072.0 427.9 2073.0 428.0 2073.2 428.0 2074.0 427.3 2075.0 425.7 2076.0 424.5 2076.1 424.4 2077.0 424.3 2078.0 424.5 2079.0 424.7 2079.3 424.7 2080.0 424.5 2081.0 423.9 2082.0 423.2 2083.0 423.1 2083.1 423.2 2084.0 423.9 2085.0 425.0 2086.0 426.1 2087.0 427.0 2087.3 427.1 2088.0 427.0 2089.0 426.3 2090.0 425.4 2090.8 424.8 2091.0 424.8 2092.0 424.6 2093.0 424.7 2094.0 424.7 2095.0 424.6 2095.3 424.6 2096.0 424.6 2097.0 424.8 2098.0 424.9 2099.0 425.0 2099.8 425.1 2100.0 425.1 2101.0 424.7 2102.0 424.1 2103.0 423.5 2103.4 423.4 2104.0 423.6 2105.0 424.7 2106.0 425.8 2106.9 426.3 2107.0 426.3 2108.0 425.6 2109.0 424.4 2110.0 423.2 2111.0 422.8 2111.1 422.8 2112.0 423.4 2113.0 424.3 2114.0 425.1 2114.6 425.2 2115.0 425.1 2116.0 424.9 2117.0 424.6 2118.0 424.1 2119.0 423.7 2119.8 423.4 2120.0 423.4 2121.0 424.0 2122.0 425.4 2123.0 426.8 2123.6 427.3 2124.0 427.5 2125.0 427.7 2126.0 427.7 2127.0 428.1 2127.5 428.4 2128.0 428.8 2129.0 429.6 2130.0 429.7 2131.0 428.4 2132.0 426.5 2132.6 426.1 2133.0 426.2 2134.0 426.9 2134.9 427.3 2135.0 427.3 2136.0 426.5 2137.0 425.7 2137.1 425.7 2138.0 426.1 2139.0 427.0 2140.0 427.3 2141.0 426.6 2142.0 425.6 2142.9 424.7 2143.0 424.6 2144.0 423.1 2145.0 421.9 2145.5 421.9 2146.0 422.4 2147.0 425.8 2148.0 429.9 2149.0 431.9 2150.0 430.1 2151.0 426.9 2152.0 424.1 2152.5 423.5 2153.0 423.4 2154.0 424.0 2155.0 424.9 2155.1 425.0 2156.0 426.7 2157.0 428.9 2157.7 429.3 2158.0 429.2 2159.0 427.7 2160.0 425.4 2161.0 424.0 2161.2 424.0 2162.0 424.6 2163.0 426.0 2164.0 426.7 2164.1 426.7 2165.0 426.5 2166.0 426.5 2167.0 426.6 2167.9 426.5 2168.0 426.5 2169.0 426.0 2170.0 425.4 2171.0 425.4 2171.8 425.9 2172.0 426.1 2173.0 427.6 2174.0 429.5 2175.0 430.7 2175.3 430.9 2176.0 430.3 2177.0 428.8 2178.0 427.0 2179.0 425.9 2179.5 425.9 2180.0 426.0 2181.0 427.5 2182.0 428.7 2182.1 428.8 2183.0 428.7 2184.0 428.7 2185.0 428.7 2185.3 428.8 2186.0 430.2 2186.9 433.2 2187.0 433.4 2188.0 435.7 2188.5 436.4 2189.0 436.7 2190.0 437.3 2190.4 438.3 2190.9 445.8 2191.0 448.2 2191.6 471.5 2192.0 490.0 2192.2 497.3 2193.0 515.9 2193.5 520.2 2194.0 519.0 2195.0 511.8 2195.2 510.1 2196.0 495.2 2196.5 489.5 2197.0 490.6 2198.0 497.4 2199.0 531.9 2199.1 535.9 2200.0 574.6 2201.0 611.5 2201.5 619.1 2202.0 615.8 2203.0 593.6 2203.2 587.4 2203.8 548.8 2204.0 541.2 2205.0 513.6 2205.1 510.2 2205.7 484.4 2206.0 477.1 2207.0 461.1 2208.0 452.1 2208.3 449.6 2209.0 442.6 2209.6 438.2 2210.0 436.9 2210.9 435.1 2211.0 435.1 2212.0 434.4 2213.0 434.0 2214.0 433.7 2214.1 433.7 2215.0 434.2 2216.0 435.5 2216.7 435.9 2217.0 435.4 2218.0 429.1 2218.6 426.3 2219.0 425.8 2220.0 424.8 2220.6 424.6 2221.0 425.4 2222.0 432.0 2223.0 436.9 2223.1 436.9 2224.0 436.3 2225.0 434.6 2225.1 434.4 2226.0 432.0 2227.0 429.0 2227.6 428.7 2228.0 429.2 2229.0 432.7 2230.0 437.0 2230.9 438.7 2231.0 438.6 2232.0 438.3 2233.0 437.9 2234.0 437.2 2235.0 436.7 2236.0 436.9 2237.0 437.5 2238.0 437.9 2239.0 438.0 2240.0 438.0 2241.0 438.3"/>
<path stroke="#f00" d="M280.0 873.7L280.9 876.0 281.0 876.1 282.0 877.0 283.0 877.7 283.7 878.4 284.0 878.8 285.0 880.8 286.0 882.6 286.4 883.1 287.0 882.4 288.0 879.8 289.0 877.5 289.2 877.2 290.0 876.6 291.0 875.9 292.0 875.2 293.0 874.9 293.8 875.1 294.0 875.3 295.0 877.4 296.0 879.5 296.5 879.8 297.0 879.5 298.0 878.3 299.0 877.1 299.7 876.8 300.0 876.7 301.0 877.3 302.0 878.3 302.9 878.7 303.0 878.7 304.0 878.1 305.0 877.0 305.7 876.5 306.0 876.4 307.0 876.5 308.0 877.0 309.0 877.7 310.0 878.5 311.0 879.5 311.2 879.7 312.0 879.2 313.0 877.2 314.0 875.0 314.9 873.9 315.0 873.9 316.0 873.9 317.0 874.5 318.0 875.4 318.5 875.8 319.0 876.0 320.0 876.5 321.0 876.9 321.8 876.9 322.0 876.8 323.0 875.9 324.0 874.9 324.5 874.8 325.0 875.2 326.0 876.1 327.0 877.3 328.0 878.4 329.0 879.2 330.0 879.5 330.5 879.5 331.0 879.4 332.0 878.4 333.0 877.4 333.7 877.2 334.0 877.2 335.0 877.5 336.0 878.3 337.0 879.4 338.0 880.4 339.0 880.7 339.2 880.6 340.0 879.7 341.0 877.5 342.0 875.4 342.9 874.8 343.0 874.8 344.0 875.8 345.0 877.3 346.0 878.8 346.1 878.9 347.0 879.8 348.0 880.8 349.0 881.6 349.8 881.8 350.0 881.8 351.0 881.3 352.0 880.4 353.0 879.3 353.4 878.9 354.0 878.4 355.0 877.5 356.0 877.2 356.2 877.2 357.0 877.6 358.0 878.1 358.5 878.1 359.0 877.6 360.0 875.9 361.0 873.9 362.0 872.6 362.1 872.5 363.0 874.0 364.0 877.8 365.0 882.1 366.0 884.8 366.3 885.0 367.0 884.3 368.0 881.5 369.0 878.3 370.0 876.1 370.4 875.9 371.0 876.1 372.0 878.3 373.0 881.2 374.0 883.7 374.5 884.4 375.0 884.4 376.0 883.0 377.0 880.6 378.0 877.9 379.0 875.8 380.0 875.1 381.0 875.8 382.0 876.7 383.0 877.7 384.0 878.8 385.0 879.7 385.6 879.8 386.0 879.7 387.0 878.8 388.0 877.9 388.3 877.8 389.0 877.4 390.0 876.8 391.0 876.2 392.0 875.8 392.4 875.7 393.0 876.0 394.0 876.9 394.7 877.4 395.0 877.6 396.0 877.0 397.0 876.1 397.5 876.2 398.0 876.1 399.0 876.8 400.0 878.1 401.0 879.2 402.0 879.7 402.5 879.6 403.0 879.7 404.0 878.4 405.0 876.4 406.0 875.4 406.2 875.3 407.0 875.3 408.0 876.4 409.0 878.1 410.0 879.6 410.3 879.8 411.0 879.6 412.0 878.3 413.0 877.0 414.0 876.4 415.0 876.7 416.0 877.1 417.0 877.3 417.7 877.2 418.0 877.2 419.0 876.8 420.0 875.9 420.9 875.5 421.0 875.5 422.0 876.6 423.0 878.6 424.0 880.2 424.6 880.4 425.0 880.2 426.0 878.3 427.0 875.8 428.0 874.2 428.2 874.2 429.0 874.8 430.0 875.9 431.0 876.8 431.4 876.9 432.0 877.0 433.0 877.0 434.0 876.9 434.2 876.9 435.0 877.4 436.0 879.4 437.0 880.8 438.0 879.5 439.0 877.6 439.7 876.8 440.0 877.0 441.0 879.1 442.0 880.5 443.0 879.0 444.0 876.2 445.0 874.0 445.2 873.9 446.0 875.3 447.0 877.9 448.0 880.0 448.4 880.3 449.0 879.8 450.0 878.2 451.0 876.9 451.2 876.9 452.0 877.8 453.0 880.0 454.0 882.0 454.4 882.5 455.0 881.8 456.0 879.9 457.0 877.6 458.0 876.3 458.1 876.3 459.0 876.5 460.0 876.8 461.0 876.7 461.7 876.5 462.0 876.4 463.0 876.8 464.0 877.8 465.0 878.7 465.4 879.0 466.0 879.2 467.0 879.5 468.0 879.6 469.0 879.7 469.1 879.7 470.0 880.3 470.5 880.4 471.0 880.1 472.0 879.0 473.0 878.3 473.2 878.4 474.0 879.2 475.0 880.9 476.0 882.6 476.4 883.0 477.0 883.4 478.0 884.1 479.0 884.5 480.0 884.4 481.0 882.9 482.0 880.6 483.0 878.6 483.7 877.9 484.0 878.4 485.0 881.4 486.0 884.8 486.9 885.7 487.0 885.7 488.0 885.1 489.0 883.6 490.0 882.1 490.6 881.6 491.0 881.5 492.0 881.0 493.0 880.6 494.0 880.5 494.7 880.6 495.0 880.8 496.0 882.9 497.0 885.4 497.4 885.8 498.0 884.9 499.0 882.8 499.7 882.3 500.0 882.4 501.0 884.0 502.0 886.0 502.9 886.6 503.0 886.6 504.0 885.7 505.0 884.5 506.0 883.3 507.0 882.4 507.1 882.4 508.0 883.5 509.0 885.3 509.8 886.0 510.0 886.0 511.0 886.1 512.0 885.9 513.0 885.3 514.0 884.5 515.0 883.8 515.3 883.7 516.0 883.8 517.0 884.6 518.0 885.6 519.0 886.5 520.0 886.8 520.4 886.8 521.0 886.5 522.0 885.3 523.0 884.0 523.6 883.6 524.0 883.6 525.0 884.1 526.0 885.1 527.0 886.3 528.0 887.1 529.0 887.4 529.1 887.4 530.0 886.6 531.0 885.3 532.0 884.1 532.3 883.9 533.0 884.2 534.0 885.3 535.0 886.6 536.0 887.3 537.0 886.5 538.0 885.1 539.0 883.6 540.0 882.5 540.1 882.5 541.0 883.5 542.0 885.4 543.0 887.5 544.0 889.1 544.2 889.3 545.0 889.0 546.0 887.9 547.0 886.5 548.0 885.2 548.4 884.9 549.0 885.1 550.0 886.7 551.0 888.6 552.0 889.7 552.1 889.8 553.0 889.5 554.0 888.7 555.0 887.6 556.0 886.7 556.2 886.6 557.0 886.6 558.0 886.9 559.0 887.3 559.9 887.7 560.0 887.7 561.0 888.9 562.0 890.2 562.6 890.3 563.0 890.0 564.0 888.4 564.4 888.1 565.0 888.3 566.0 889.4 567.0 890.6 568.0 891.3 568.1 891.3 569.0 891.3 570.0 891.0 571.0 890.7 572.0 890.5 572.7 890.3 573.0 890.2 574.0 889.6 575.0 889.3 576.0 889.2 576.8 889.2 577.0 889.3 578.0 890.2 579.0 891.4 579.6 891.8 580.0 891.7 581.0 890.2 582.0 888.7 582.3 888.6 583.0 889.4 584.0 892.6 585.0 895.6 585.6 896.2 586.0 895.9 587.0 893.6 588.0 891.0 588.8 890.0 589.0 890.1 590.0 891.6 591.0 893.5 591.5 894.1 592.0 894.5 593.0 895.1 594.0 895.4 595.0 895.2 595.6 895.0 596.0 894.9 597.0 894.9 598.0 895.1 599.0 895.0 600.0 894.6 601.0 894.3 601.2 894.3 602.0 894.1 603.0 893.7 604.0 893.1 605.0 892.7 605.3 892.6 606.0 892.8 607.0 893.9 608.0 894.5 609.0 894.5 610.0 894.4 610.3 894.4 611.0 894.7 612.0 895.7 613.0 896.2 613.1 896.2 614.0 896.2 615.0 895.8 615.8 895.8 616.0 895.8 617.0 896.6 618.0 897.5 618.6 897.8 619.0 897.7 620.0 897.8 621.0 897.7 622.0 897.4 622.3 897.2 623.0 896.8 624.0 896.8 625.0 897.2 625.9 897.4 626.0 897.4 627.0 897.5 628.0 897.7 629.0 897.8 630.0 897.8 630.5 897.8 631.0 897.9 632.0 897.4 633.0 897.1 633.3 897.2 634.0 897.5 635.0 899.0 636.0 900.6 636.5 900.9 637.0 900.4 638.0 898.8 639.0 897.8 639.2 897.8 640.0 898.1 641.0 898.6 642.0 899.4 643.0 900.4 644.0 901.4 644.3 901.6 645.0 901.5 646.0 900.5 647.0 899.2 648.0 898.3 648.9 898.2 649.0 898.2 650.0 898.9 651.0 899.9 652.0 900.6 653.0 900.7 654.0 900.6 655.0 900.0 656.0 899.0 657.0 898.0 658.0 897.4 658.5 897.2 659.0 897.5 660.0 898.5 661.0 899.7 662.0 900.3 662.2 900.3 663.0 899.9 664.0 899.2 665.0 898.5 666.0 898.1 667.0 897.9 667.2 897.9 668.0 898.2 669.0 899.2 670.0 900.2 670.5 900.3 671.0 899.9 672.0 898.4 673.0 896.9 673.7 896.7 674.0 897.0 675.0 898.2 676.0 899.4 677.0 900.1 677.3 900.1 678.0 899.7 679.0 898.7 680.0 898.2 681.0 898.9 682.0 899.9 683.0 900.5 683.7 900.5 684.0 900.4 685.0 899.2 686.0 897.6 686.9 897.0 687.0 897.0 688.0 897.3 689.0 897.6 690.0 897.9 691.0 898.4 692.0 898.9 693.0 899.2 694.0 899.3 694.7 899.3 695.0 899.2 696.0 898.7 697.0 898.2 697.9 898.4 698.0 898.4 699.0 899.3 700.0 900.4 701.0 900.8 701.1 900.7 702.0 900.0 703.0 899.2 704.0 899.0 704.8 899.2 705.0 899.3 706.0 899.3 707.0 898.7 708.0 897.9 708.5 897.7 709.0 897.5 710.0 897.7 711.0 898.3 712.0 899.3 712.1 899.4 713.0 900.1 714.0 900.9 715.0 901.6 715.3 901.6 716.0 900.6 717.0 898.5 718.0 896.9 718.1 896.9 719.0 896.9 720.0 897.4 721.0 897.8 722.0 898.0 723.0 897.9 723.1 897.9 724.0 897.8 725.0 898.0 726.0 898.4 727.0 898.4 728.0 898.0 729.0 897.9 729.6 897.9 730.0 897.8 731.0 896.8 732.0 895.8 732.3 895.8 733.0 896.0 734.0 896.9 735.0 897.9 736.0 898.4 737.0 898.3 738.0 898.1 739.0 898.1 739.7 898.0 740.0 898.0 741.0 897.4 742.0 896.6 742.4 896.4 743.0 896.6 744.0 898.0 745.0 899.4 745.2 899.6 746.0 899.8 747.0 899.1 748.0 897.9 749.0 896.4 750.0 895.0 751.0 893.9 751.6 893.7 752.0 893.7 753.0 894.1 754.0 894.5 755.0 894.8 756.0 895.1 756.2 895.1 757.0 895.3 758.0 896.0 759.0 896.3 759.4 896.2 760.0 896.2 761.0 895.4 762.0 894.6 762.6 894.5 763.0 894.6 764.0 894.4 765.0 894.0 766.0 893.5 766.7 893.1 767.0 893.1 768.0 893.4 769.0 894.0 769.5 894.2 770.0 894.4 771.0 894.8 772.0 894.8 773.0 894.5 774.0 894.5 774.5 894.7 775.0 894.7 776.0 894.2 777.0 892.9 778.0 891.5 779.0 890.8 779.1 890.9 780.0 891.4 781.0 892.5 782.0 893.4 783.0 894.0 783.3 894.1 784.0 893.7 785.0 892.8 786.0 892.1 786.5 892.0 787.0 891.9 788.0 891.9 789.0 891.7 789.2 891.6 790.0 891.4 791.0 890.4 792.0 889.6 793.0 889.4 794.0 889.5 795.0 889.5 796.0 889.3 797.0 889.1 797.5 888.9 798.0 888.7 799.0 888.5 800.0 888.8 801.0 889.4 802.0 890.1 803.0 890.5 804.0 891.0 805.0 891.7 806.0 892.4 806.2 892.4 807.0 891.9 808.0 890.4 809.0 889.6 810.0 889.7 811.0 889.6 812.0 889.3 813.0 889.1 813.1 889.2 814.0 890.3 815.0 892.1 815.8 893.0 816.0 892.9 817.0 892.2 818.0 891.1 819.0 890.5 819.5 890.3 820.0 890.2 821.0 890.1 822.0 889.9 823.0 889.8 824.0 889.8 825.0 889.8 825.9 889.5 826.0 889.4 827.0 889.4 828.0 889.8 829.0 890.4 830.0 890.9 830.5 891.1 831.0 891.5 832.0 892.3 833.0 893.0 834.0 893.3 835.0 893.1 835.1 893.1 836.0 892.6 837.0 892.0 838.0 891.7 839.0 891.8 840.0 891.8 840.2 891.8 841.0 891.8 842.0 892.1 843.0 892.7 844.0 893.1 845.0 893.2 845.2 893.2 846.0 893.5 847.0 894.1 848.0 894.7 849.0 894.8 849.8 894.8 850.0 894.8 851.0 894.8 852.0 894.7 853.0 894.5 853.5 894.4 854.0 894.4 855.0 894.8 856.0 895.5 857.0 896.0 857.1 896.0 858.0 895.8 859.0 895.0 860.0 894.1 860.8 893.8 861.0 893.9 862.0 894.4 863.0 895.1 864.0 895.8 865.0 896.4 865.4 896.4 866.0 896.0 867.0 894.9 868.0 893.8 869.0 893.3 869.1 893.2 870.0 893.7 871.0 895.1 872.0 896.7 873.0 898.1 873.7 898.5 874.0 898.5 875.0 898.4 876.0 897.9 877.0 897.3 877.3 897.3 877.4 897.4 878.0 897.6 879.0 898.3 880.0 898.9 881.0 899.3 881.7 899.5 882.0 899.6 883.0 899.9 884.0 900.6 885.0 901.3 886.0 902.0 886.4 902.2 887.0 902.7 888.0 903.8 889.0 905.1 890.0 906.2 890.5 906.5 891.0 906.8 892.0 907.4 893.0 908.0 893.4 908.2 894.0 908.5 895.0 908.6 896.0 908.8 897.0 909.6 898.0 911.1 898.1 911.3 899.0 913.6 900.0 917.1 901.0 921.0 902.0 924.7 903.0 928.7 904.0 932.9 905.0 937.7 906.0 943.6 906.3 945.6 907.0 951.0 908.0 960.9 908.1 962.1 909.0 976.3 909.2 979.5 910.0 991.3 910.4 997.1 911.0 1005.4 911.6 1014.6 912.0 1022.6 912.7 1038.1 913.0 1044.9 914.0 1066.6 914.3 1068.4 915.0 1063.9 916.0 1048.5 916.3 1043.9 917.0 1032.1 918.0 1014.7 919.0 1000.7 919.8 991.2 920.0 989.1 921.0 979.7 921.5 976.0 922.0 973.0 923.0 968.0 923.9 964.5 924.0 964.1 925.0 960.7 926.0 957.6 927.0 954.7 927.4 953.6 928.0 952.1 929.0 949.7 930.0 947.0 930.9 944.3 931.0 944.0 932.0 940.7 933.0 937.3 934.0 933.9 934.4 932.6 935.0 930.8 936.0 928.1 937.0 925.5 937.3 924.7 938.0 922.3 939.0 918.7 939.7 917.0 940.0 916.5 941.0 915.1 942.0 914.4 943.0 914.8 944.0 915.7 944.9 916.4 945.0 916.4 946.0 917.5 947.0 919.5 947.3 920.3 948.0 923.0 949.0 929.1 950.0 939.6 950.8 950.3 951.0 952.9 952.0 967.8 953.0 994.5 953.1 997.1 954.0 1017.3 954.1 1020.5 954.6 1047.5 955.0 1044.6 956.0 1022.9 956.1 1020.5 957.0 991.0 957.2 985.4 958.0 968.7 958.4 962.0 959.0 953.2 960.0 940.8 960.2 938.5 961.0 929.2 961.9 921.1 962.0 920.5 963.0 915.4 964.0 911.4 964.8 909.0 965.0 908.4 966.0 906.2 967.0 904.6 968.0 903.5 969.0 902.5 969.5 902.0 970.0 901.4 971.0 900.3 972.0 899.5 973.0 899.1 974.0 898.9 975.0 898.4 975.4 898.0 976.0 897.4 977.0 896.1 978.0 895.0 978.9 894.3 979.0 894.2 980.0 893.8 981.0 893.9 982.0 894.4 983.0 894.7 984.0 894.3 984.8 893.7 985.0 893.5 986.0 892.8 987.0 892.3 988.0 892.0 989.0 892.0 990.0 892.2 990.6 892.2 991.0 892.1 992.0 891.7 993.0 891.4 994.0 891.4 995.0 891.2 996.0 890.9 997.0 890.6 998.0 890.4 999.0 890.5 1000.0 890.5 1001.0 890.4 1002.0 890.3 1003.0 890.2 1004.0 890.0 1005.0 889.8 1006.0 889.5 1007.0 889.3 1008.0 889.4 1009.0 889.6 1010.0 889.6 1011.0 889.3 1012.0 889.3 1013.0 889.6 1014.0 889.7 1015.0 889.5 1016.0 889.3 1017.0 889.4 1018.0 889.2 1018.8 888.8 1019.0 888.7 1020.0 888.5 1021.0 889.0 1022.0 889.4 1023.0 889.1 1024.0 888.5 1025.0 888.1 1026.0 888.0 1027.0 888.1 1028.0 888.3 1029.0 888.5 1030.0 888.5 1031.0 888.0 1032.0 887.5 1033.0 887.4 1034.0 887.5 1035.0 887.7 1036.0 887.6 1037.0 887.6 1037.1 887.6 1038.0 887.4 1039.0 887.0 1040.0 886.5 1041.0 886.6 1042.0 887.2 1043.0 887.8 1044.0 888.0 1045.0 888.1 1046.0 888.3 1047.0 888.5 1048.0 888.4 1049.0 887.9 1050.0 887.4 1051.0 887.1 1052.0 887.2 1053.0 887.2 1054.0 887.3 1055.0 887.4 1056.0 887.3 1057.0 887.1 1058.0 887.2 1059.0 887.3 1060.0 887.3 1061.0 887.2 1062.0 887.1 1063.0 887.3 1064.0 887.4 1065.0 887.5 1066.0 887.4 1067.0 887.3 1068.0 887.4 1069.0 887.5 1070.0 887.4 1071.0 887.6 1072.0 888.0 1073.0 888.7 1074.0 889.5 1074.6 889.8 1075.0 890.0 1076.0 889.9 1077.0 889.5 1078.0 889.0 1079.0 888.6 1080.0 888.4 1081.0 888.5 1082.0 888.7 1083.0 888.8 1084.0 889.0 1085.0 888.9 1086.0 888.5 1087.0 888.1 1088.0 888.0 1089.0 888.1 1090.0 888.2 1091.0 888.3 1092.0 888.4 1093.0 888.1 1094.0 887.4 1095.0 886.8 1096.0 886.7 1097.0 886.8 1098.0 886.9 1099.0 886.8 1100.0 886.3 1101.0 886.0 1102.0 886.0 1103.0 886.4 1104.0 886.6 1105.0 886.7 1106.0 887.0 1107.0 887.1 1108.0 886.8 1109.0 886.5 1110.0 886.2 1111.0 885.9 1112.0 885.2 1113.0 884.5 1114.0 884.4 1115.0 884.9 1116.0 885.4 1117.0 885.2 1118.0 884.9 1119.0 884.9 1120.0 885.1 1121.0 884.9 1122.0 884.7 1123.0 884.8 1124.0 885.0 1125.0 885.1 1125.1 885.1 1126.0 885.4 1127.0 885.5 1128.0 885.1 1129.0 884.2 1130.0 883.9 1131.0 883.9 1132.0 884.0 1133.0 884.3 1134.0 885.0 1135.0 885.5 1136.0 885.5 1137.0 885.2 1138.0 885.0 1139.0 884.6 1140.0 884.2 1141.0 884.5 1142.0 885.0 1143.0 885.3 1144.0 885.1 1145.0 884.9 1146.0 884.8 1147.0 884.5 1148.0 884.3 1149.0 884.3 1150.0 884.5 1151.0 884.8 1152.0 885.0 1153.0 885.3 1154.0 885.7 1155.0 886.0 1156.0 885.6 1157.0 884.6 1158.0 883.7 1159.0 883.6 1160.0 884.1 1161.0 884.4 1162.0 884.6 1163.0 884.9 1164.0 885.3 1165.0 885.3 1166.0 884.8 1167.0 884.6 1168.0 884.7 1169.0 884.9 1170.0 885.2 1171.0 885.4 1172.0 885.4 1173.0 885.1 1174.0 884.9 1175.0 884.8 1176.0 884.7 1177.0 884.6 1178.0 884.4 1179.0 884.1 1180.0 883.9 1180.1 883.9 1181.0 884.1 1182.0 884.6 1183.0 884.9 1184.0 884.9 1185.0 885.0 1186.0 885.1 1187.0 885.3 1188.0 885.3 1189.0 885.2 1190.0 885.1 1191.0 884.8 1192.0 884.4 1193.0 884.0 1194.0 883.9 1195.0 884.2 1196.0 884.6 1197.0 884.8 1198.0 884.5 1199.0 884.1 1200.0 883.9 1201.0 883.9 1202.0 883.9 1203.0 884.0 1204.0 884.1 1205.0 884.3 1206.0 884.5 1207.0 884.7 1208.0 884.6 1209.0 884.4 1210.0 884.2 1211.0 883.9 1212.0 883.8 1213.0 883.8 1214.0 883.7 1215.0 883.3 1216.0 883.1 1217.0 883.5 1218.0 884.1 1219.0 884.3 1220.0 884.2 1221.0 884.1 1222.0 884.0 1223.0 883.8 1224.0 883.4 1225.0 883.3 1226.0 883.3 1227.0 883.1 1228.0 882.9 1229.0 883.0 1229.7 883.1 1230.0 883.3 1231.0 884.0 1232.0 885.2 1233.0 886.6 1234.0 888.0 1235.0 888.7 1235.2 888.7 1236.0 887.4 1237.0 884.0 1238.0 881.1 1238.5 880.8 1239.0 881.1 1240.0 882.2 1241.0 883.8 1242.0 885.2 1242.6 885.7 1243.0 885.8 1244.0 886.1 1245.0 886.6 1246.0 887.3 1246.2 887.4 1247.0 887.8 1248.0 888.2 1249.0 888.8 1250.0 889.4 1251.0 889.7 1252.0 889.7 1252.3 889.7 1253.0 889.2 1254.0 886.5 1255.0 883.4 1256.0 881.5 1256.3 881.4 1257.0 881.7 1258.0 883.2 1259.0 885.4 1260.0 887.6 1261.0 889.0 1261.5 889.3 1262.0 889.2 1263.0 888.6 1264.0 887.6 1265.0 886.4 1266.0 885.5 1267.0 884.7 1268.0 884.5 1268.3 884.6 1269.0 884.9 1270.0 884.9 1271.0 884.5 1272.0 884.4 1273.0 884.6 1274.0 884.8 1275.0 884.7 1276.0 884.3 1277.0 884.0 1278.0 884.1 1279.0 884.4 1280.0 884.6 1281.0 884.4 1282.0 884.2 1283.0 884.0 1284.0 883.9 1285.0 884.0 1286.0 884.2 1287.0 884.3 1288.0 884.3 1289.0 884.0 1290.0 883.5 1291.0 883.2 1292.0 883.3 1293.0 883.6 1294.0 883.6 1295.0 883.5 1296.0 883.8 1297.0 884.4 1298.0 884.6 1299.0 884.1 1300.0 883.4 1301.0 882.9 1302.0 883.1 1303.0 883.8 1304.0 884.3 1305.0 884.4 1306.0 884.2 1307.0 883.9 1308.0 883.4 1309.0 882.7 1310.0 882.4 1311.0 882.7 1312.0 883.3 1313.0 883.7 1314.0 884.0 1315.0 884.0 1316.0 883.9 1317.0 883.9 1318.0 884.1 1319.0 884.1 1320.0 883.8 1321.0 883.5 1322.0 883.3 1323.0 883.5 1324.0 883.6 1325.0 883.5 1326.0 883.3 1327.0 883.3 1328.0 883.5 1329.0 883.4 1330.0 883.0 1331.0 883.1 1332.0 883.3 1333.0 883.4 1334.0 883.4 1335.0 883.2 1336.0 882.9 1337.0 882.8 1338.0 883.1 1339.0 883.4 1340.0 883.6 1341.0 883.7 1342.0 884.0 1343.0 884.3 1344.0 884.4 1345.0 884.5 1346.0 884.8 1347.0 884.7 1348.0 884.3 1349.0 883.9 1350.0 883.8 1351.0 883.9 1352.0 883.8 1353.0 883.7 1354.0 883.6 1355.0 883.2 1356.0 882.4 1357.0 882.2 1358.0 882.7 1359.0 883.6 1360.0 884.4 1361.0 884.7 1362.0 884.7 1363.0 884.3 1364.0 883.8 1365.0 883.8 1366.0 884.3 1367.0 884.7 1368.0 884.9 1369.0 885.1 1370.0 885.2 1371.0 885.0 1372.0 884.7 1373.0 884.5 1374.0 884.6 1375.0 884.5 1376.0 884.2 1377.0 883.9 1378.0 883.9 1379.0 884.2 1380.0 884.3 1381.0 884.5 1382.0 884.9 1383.0 885.3 1384.0 885.3 1385.0 884.8 1386.0 884.4 1387.0 884.6 1388.0 884.8 1389.0 884.5 1390.0 884.1 1391.0 883.9 1392.0 884.2 1393.0 884.4 1394.0 884.7 1395.0 884.9 1396.0 884.9 1397.0 884.6 1398.0 884.2 1399.0 884.3 1400.0 884.9 1400.4 885.1 1401.0 885.3 1402.0 885.3 1403.0 885.1 1404.0 884.8 1405.0 884.3 1406.0 884.0 1407.0 884.3 1408.0 884.8 1409.0 885.2 1410.0 885.4 1411.0 885.3 1412.0 885.0 1413.0 884.9 1414.0 885.0 1415.0 885.2 1416.0 885.4 1417.0 885.6 1418.0 885.6 1419.0 885.4 1420.0 884.7 1421.0 883.9 1422.0 883.8 1423.0 884.4 1424.0 884.9 1425.0 884.8 1426.0 884.4 1427.0 884.3 1428.0 884.5 1429.0 884.9 1430.0 885.2 1431.0 885.0 1432.0 884.7 1433.0 884.7 1434.0 884.8 1435.0 884.9 1436.0 884.8 1437.0 885.1 1438.0 885.7 1439.0 886.1 1440.0 885.8 1441.0 885.2 1442.0 884.6 1443.0 884.2 1444.0 884.1 1445.0 884.5 1446.0 884.9 1447.0 884.9 1448.0 884.6 1449.0 884.4 1450.0 884.2 1451.0 884.0 1452.0 883.9 1453.0 884.0 1454.0 884.3 1455.0 884.7 1456.0 884.8 1457.0 884.7 1458.0 884.7 1459.0 884.8 1460.0 885.0 1461.0 885.3 1462.0 885.6 1463.0 885.5 1464.0 885.4 1465.0 885.5 1466.0 885.3 1467.0 884.7 1468.0 884.4 1469.0 884.6 1470.0 885.0 1471.0 884.9 1472.0 884.4 1473.0 884.0 1474.0 883.7 1475.0 883.7 1476.0 884.2 1477.0 885.0 1478.0 885.5 1479.0 885.4 1480.0 885.0 1481.0 884.8 1482.0 884.9 1483.0 885.1 1484.0 885.2 1485.0 885.2 1486.0 885.0 1487.0 884.7 1488.0 884.6 1489.0 884.7 1490.0 884.8 1491.0 884.8 1492.0 884.9 1493.0 885.1 1494.0 885.2 1495.0 885.1 1496.0 885.1 1497.0 885.1 1498.0 885.1 1499.0 885.0 1500.0 884.6 1501.0 884.3 1502.0 884.3 1503.0 884.6 1504.0 884.8 1505.0 884.7 1506.0 884.5 1507.0 884.4 1508.0 884.3 1509.0 884.3 1510.0 884.5 1511.0 884.9 1512.0 885.1 1513.0 885.1 1514.0 885.0 1515.0 884.6 1516.0 884.3 1517.0 884.3 1518.0 884.8 1519.0 885.1 1520.0 885.2 1521.0 885.4 1522.0 885.6 1523.0 885.2 1524.0 884.3 1525.0 883.9 1525.1 884.0 1526.0 884.4 1527.0 885.1 1528.0 885.4 1529.0 885.3 1530.0 885.3 1531.0 885.2 1532.0 885.1 1533.0 884.9 1534.0 884.8 1535.0 884.9 1536.0 884.9 1537.0 884.6 1538.0 884.3 1539.0 884.2 1540.0 884.4 1541.0 884.7 1542.0 885.0 1543.0 885.4 1544.0 885.6 1545.0 885.6 1546.0 885.4 1547.0 885.2 1548.0 884.9 1549.0 884.8 1550.0 884.9 1551.0 885.2 1552.0 885.7 1553.0 886.1 1554.0 886.1 1555.0 885.9 1556.0 885.4 1557.0 884.7 1558.0 884.5 1559.0 885.1 1560.0 885.6 1561.0 885.8 1562.0 885.8 1563.0 885.9 1564.0 886.3 1565.0 886.7 1566.0 886.8 1567.0 886.8 1568.0 887.0 1569.0 887.5 1570.0 887.7 1571.0 887.4 1572.0 887.1 1573.0 887.0 1574.0 886.9 1575.0 887.0 1576.0 887.1 1577.0 887.3 1578.0 887.4 1578.3 887.4 1579.0 887.6 1580.0 887.9 1581.0 888.2 1582.0 888.5 1583.0 889.1 1584.0 889.9 1585.0 890.7 1586.0 891.1 1587.0 891.1 1587.5 891.1 1588.0 891.1 1589.0 891.4 1590.0 891.8 1591.0 892.0 1591.2 892.1 1592.0 892.5 1593.0 893.2 1594.0 894.3 1595.0 895.7 1596.0 897.2 1596.7 898.1 1597.0 898.4 1598.0 900.0 1599.0 902.4 1600.0 905.5 1601.0 908.7 1601.3 909.6 1602.0 912.2 1603.0 916.6 1604.0 921.3 1605.0 926.0 1605.8 929.6 1606.0 930.4 1607.0 935.0 1608.0 939.6 1609.0 943.3 1609.5 944.6 1610.0 945.5 1611.0 947.4 1612.0 948.8 1612.8 949.3 1613.0 949.3 1614.0 948.6 1615.0 947.4 1616.0 945.8 1616.9 944.1 1617.0 943.9 1618.0 941.2 1619.0 937.3 1620.0 932.7 1621.0 928.0 1622.0 923.9 1622.4 922.6 1623.0 920.8 1624.0 917.7 1625.0 914.7 1626.0 912.1 1627.0 909.9 1628.0 908.0 1629.0 906.4 1629.7 905.4 1630.0 905.0 1631.0 903.5 1632.0 901.9 1633.0 900.8 1634.0 900.1 1635.0 900.1 1635.2 900.1 1636.0 900.3 1637.0 900.2 1638.0 899.7 1639.0 899.4 1640.0 899.3 1641.0 899.3 1642.0 899.4 1643.0 899.5 1644.0 899.2 1644.4 899.0 1645.0 898.6 1646.0 898.0 1647.0 897.6 1648.0 897.6 1649.0 897.6 1650.0 897.4 1651.0 897.3 1651.7 897.5 1652.0 897.6 1653.0 897.7 1654.0 897.6 1655.0 897.5 1656.0 897.7 1657.0 898.0 1658.0 898.0 1659.0 897.9 1660.0 898.2 1661.0 898.6 1662.0 898.9 1662.8 899.0 1663.0 899.0 1664.0 899.0 1665.0 898.9 1666.0 899.0 1667.0 899.4 1668.0 900.0 1669.0 900.5 1670.0 900.3 1671.0 900.0 1671.9 900.0 1672.0 900.0 1673.0 900.6 1674.0 901.8 1675.0 903.3 1676.0 904.4 1677.0 904.8 1677.1 904.8 1678.0 904.1 1679.0 903.1 1680.0 902.0 1681.0 901.0 1682.0 900.0 1683.0 899.3 1684.0 899.1 1685.0 898.7 1686.0 898.0 1687.0 897.2 1688.0 896.6 1689.0 896.0 1690.0 895.5 1690.3 895.4 1691.0 895.1 1692.0 895.0 1693.0 895.1 1694.0 895.1 1695.0 895.1 1696.0 895.1 1697.0 895.2 1698.0 895.2 1699.0 895.0 1700.0 894.8 1701.0 894.4 1702.0 894.0 1703.0 893.9 1704.0 894.1 1705.0 894.4 1706.0 894.6 1707.0 894.6 1708.0 894.2 1708.6 894.0 1709.0 893.8 1710.0 893.7 1711.0 893.8 1712.0 893.8 1713.0 893.7 1714.0 893.7 1714.2 893.7 1715.0 893.6 1716.0 893.1 1717.0 892.4 1718.0 891.9 1719.0 891.8 1720.0 892.1 1721.0 892.6 1722.0 893.0 1723.0 893.1 1724.0 893.1 1725.0 893.1 1726.0 893.0 1727.0 892.8 1728.0 892.8 1729.0 893.4 1730.0 894.4 1730.7 895.3 1731.0 895.8 1732.0 898.7 1733.0 902.4 1734.0 905.3 1734.7 906.2 1735.0 906.2 1736.0 905.6 1737.0 904.3 1738.0 902.8 1739.0 901.3 1740.0 900.0 1741.0 898.9 1741.7 898.6 1742.0 898.5 1743.0 899.3 1744.0 900.9 1744.4 901.7 1745.0 903.1 1746.0 906.5 1747.0 910.7 1748.0 915.4 1749.0 919.8 1750.0 923.5 1751.0 926.1 1752.0 927.7 1753.0 928.8 1754.0 930.1 1754.5 931.0 1755.0 932.2 1756.0 935.3 1756.7 938.8 1757.0 942.0 1757.9 957.3 1758.0 958.5 1759.0 971.1 1759.7 975.1 1760.0 974.3 1761.0 966.1 1762.0 957.3 1762.4 955.9 1763.0 959.1 1764.0 969.2 1764.1 970.2 1765.0 980.6 1765.9 987.5 1766.0 987.2 1767.0 979.5 1768.0 965.3 1768.3 960.9 1769.0 946.4 1769.2 944.3 1770.0 941.3 1771.0 939.0 1772.0 937.7 1773.0 936.7 1773.8 935.6 1774.0 935.2 1775.0 933.4 1776.0 931.4 1777.0 929.5 1778.0 927.6 1779.0 925.8 1780.0 924.1 1780.2 923.9 1781.0 922.9 1782.0 922.2 1783.0 921.8 1784.0 921.6 1785.0 921.4 1785.7 921.1 1786.0 921.0 1787.0 920.7 1788.0 920.6 1789.0 920.6 1790.0 920.0 1790.3 919.6 1791.0 918.3 1792.0 915.9 1793.0 913.5 1794.0 911.9 1795.0 910.9 1796.0 909.6 1797.0 908.3 1798.0 907.4 1799.0 906.7 1800.0 906.0 1801.0 905.3 1801.9 905.1 1802.0 905.2 1803.0 906.3 1804.0 908.0 1805.0 910.2 1806.0 912.2 1806.9 913.6 1807.0 913.7 1808.0 914.7 1809.0 915.7 1810.0 916.9 1811.0 918.1 1811.4 918.5 1812.0 919.2 1813.0 920.5 1814.0 921.9 1815.0 923.1 1816.0 923.6 1817.0 923.2 1818.0 922.3 1819.0 921.1 1820.0 919.9 1821.0 919.1 1821.5 919.0 1822.0 919.3 1823.0 921.0 1824.0 923.9 1825.0 927.2 1826.0 930.3 1827.0 932.9 1828.0 935.4 1829.0 937.9 1830.0 939.7 1830.7 940.4 1831.0 940.5 1832.0 939.8 1833.0 938.1 1834.0 935.8 1835.0 933.5 1836.0 931.0 1837.0 928.7 1838.0 926.8 1839.0 925.9 1840.0 926.0 1841.0 926.4 1842.0 926.4 1843.0 926.0 1844.0 925.4 1845.0 924.9 1845.4 924.7 1846.0 924.3 1847.0 923.2 1848.0 921.8 1849.0 920.3 1850.0 918.8 1851.0 917.3 1851.8 916.4 1852.0 916.2 1853.0 915.1 1854.0 914.1 1855.0 913.3 1856.0 912.9 1857.0 912.9 1858.0 912.8 1859.0 912.3 1860.0 911.7 1861.0 911.2 1862.0 911.0 1862.8 910.8 1863.0 910.7 1864.0 910.3 1865.0 910.1 1866.0 910.3 1867.0 910.6 1868.0 911.2 1869.0 912.1 1870.0 913.2 1870.2 913.4 1871.0 913.9 1872.0 914.5 1873.0 915.3 1874.0 916.4 1875.0 918.1 1876.0 919.8 1877.0 921.2 1877.5 921.6 1878.0 921.9 1879.0 922.4 1880.0 922.8 1881.0 923.2 1882.0 923.4 1883.0 923.6 1884.0 924.0 1884.9 924.4 1885.0 924.4 1886.0 924.3 1887.0 923.8 1888.0 923.3 1889.0 922.9 1890.0 922.7 1890.4 922.7 1891.0 922.8 1892.0 923.4 1893.0 924.5 1894.0 925.9 1894.1 926.0 1895.0 927.3 1896.0 928.8 1897.0 930.2 1898.0 931.8 1899.0 933.7 1899.6 935.0 1900.0 936.1 1901.0 939.8 1902.0 944.2 1903.0 948.5 1904.0 951.8 1905.0 953.1 1905.1 953.1 1906.0 953.1 1907.0 953.3 1908.0 953.6 1909.0 953.7 1910.0 953.5 1910.6 953.3 1911.0 953.4 1912.0 955.2 1913.0 958.3 1914.0 961.8 1914.2 962.6 1915.0 966.0 1916.0 971.7 1917.0 977.7 1917.9 982.8 1918.0 983.3 1919.0 989.2 1920.0 995.2 1921.0 999.9 1921.6 1001.2 1922.0 1001.6 1923.0 1002.4 1924.0 1003.3 1925.0 1004.5 1926.0 1005.0 1926.2 1005.0 1927.0 1004.4 1928.0 1003.1 1929.0 1001.3 1930.0 999.3 1930.8 997.6 1931.0 997.2 1932.0 994.3 1933.0 990.4 1934.0 985.9 1935.0 981.4 1936.0 977.1 1937.0 973.3 1938.0 970.4 1938.1 970.1 1939.0 968.1 1940.0 966.1 1941.0 964.0 1942.0 962.0 1943.0 960.4 1943.6 959.7 1944.0 959.3 1945.0 958.5 1946.0 958.0 1947.0 957.6 1948.0 957.1 1948.2 957.0 1949.0 957.3 1950.0 959.3 1951.0 962.3 1952.0 965.6 1952.8 967.7 1953.0 968.2 1954.0 970.7 1955.0 973.2 1956.0 975.3 1957.0 976.7 1958.0 977.3 1958.3 977.3 1959.0 976.7 1960.0 974.7 1961.0 971.9 1962.0 969.1 1963.0 966.9 1963.8 965.7 1964.0 965.5 1965.0 964.5 1966.0 963.8 1967.0 963.3 1968.0 962.6 1969.0 961.8 1969.3 961.5 1970.0 960.8 1971.0 959.5 1972.0 958.4 1973.0 957.7 1974.0 957.7 1974.8 958.2 1975.0 958.3 1976.0 958.8 1977.0 959.1 1977.6 958.9 1978.0 958.2 1979.0 954.7 1980.0 951.4 1980.3 951.1 1981.0 950.9 1982.0 951.3 1983.0 951.8 1983.1 951.8 1984.0 950.1 1985.0 946.0 1985.8 943.3 1986.0 942.8 1987.0 940.4 1988.0 938.2 1989.0 936.2 1990.0 934.7 1991.0 933.8 1991.3 933.6 1992.0 933.3 1993.0 933.0 1994.0 933.0 1995.0 933.2 1996.0 934.8 1997.0 938.3 1998.0 942.4 1998.7 945.0 1999.0 946.2 2000.0 951.1 2001.0 956.5 2002.0 960.6 2002.7 962.1 2003.0 961.5 2004.0 958.3 2005.0 953.5 2006.0 948.3 2007.0 944.1 2008.0 940.8 2009.0 937.4 2010.0 934.2 2011.0 931.2 2012.0 928.7 2013.0 927.3 2013.4 927.2 2014.0 927.4 2015.0 927.5 2016.0 927.4 2017.0 927.1 2018.0 926.7 2019.0 926.7 2020.0 927.5 2021.0 928.7 2022.0 929.7 2023.0 930.0 2023.5 929.8 2024.0 929.5 2025.0 928.8 2026.0 927.9 2027.0 926.8 2028.0 925.8 2029.0 924.7 2030.0 923.9 2031.0 923.3 2031.7 922.9 2032.0 922.7 2033.0 922.3 2034.0 922.5 2035.0 923.2 2036.0 924.3 2037.0 925.3 2038.0 925.9 2038.2 925.9 2039.0 926.6 2040.0 928.3 2041.0 930.5 2042.0 932.5 2042.7 933.5 2043.0 933.8 2044.0 934.5 2045.0 935.2 2046.0 935.9 2047.0 936.6 2048.0 937.2 2048.3 937.3 2049.0 937.4 2050.0 936.9 2051.0 935.8 2052.0 934.6 2053.0 933.5 2054.0 932.5 2055.0 931.5 2055.6 930.9 2056.0 930.5 2057.0 929.3 2058.0 928.4 2059.0 927.9 2060.0 927.3 2061.0 926.6 2062.0 926.1 2062.9 925.7 2063.0 925.7 2064.0 925.0 2065.0 924.1 2066.0 923.4 2067.0 922.8 2068.0 922.1 2069.0 921.3 2070.0 920.5 2071.0 920.1 2072.0 920.0 2073.0 920.2 2074.0 920.3 2075.0 920.1 2076.0 920.0 2077.0 920.2 2078.0 920.7 2079.0 921.2 2080.0 921.9 2081.0 922.8 2082.0 923.8 2082.2 923.9 2083.0 924.7 2084.0 925.9 2085.0 927.5 2086.0 929.2 2087.0 931.0 2088.0 932.6 2089.0 933.9 2090.0 934.8 2090.5 935.1 2091.0 934.9 2092.0 934.2 2093.0 933.5 2094.0 932.8 2095.0 932.4 2095.1 932.4 2096.0 932.2 2097.0 932.6 2098.0 933.1 2099.0 933.5 2099.7 933.6 2100.0 933.7 2101.0 933.5 2102.0 932.9 2103.0 932.1 2104.0 931.4 2104.2 931.3 2105.0 931.2 2106.0 931.5 2107.0 932.2 2108.0 933.0 2109.0 933.7 2109.8 934.4 2110.0 934.6 2111.0 936.3 2112.0 939.0 2113.0 942.1 2114.0 944.8 2114.3 945.4 2115.0 946.7 2116.0 948.5 2117.0 950.1 2118.0 951.4 2118.9 952.2 2119.0 952.3 2120.0 952.5 2121.0 951.7 2122.0 950.6 2123.0 949.3 2124.0 948.3 2124.4 948.0 2125.0 947.8 2126.0 947.8 2127.0 948.0 2128.0 948.1 2129.0 948.3 2130.0 948.7 2131.0 949.3 2132.0 950.2 2132.7 950.8 2133.0 951.2 2134.0 953.9 2135.0 957.5 2136.0 960.5 2136.4 961.2 2137.0 961.7 2138.0 962.2 2139.0 962.6 2140.0 963.0 2141.0 963.6 2141.9 963.9 2142.0 963.9 2143.0 962.9 2144.0 961.1 2145.0 959.2 2146.0 957.5 2146.5 957.0 2147.0 956.6 2148.0 956.0 2149.0 955.6 2150.0 955.1 2151.0 954.5 2151.1 954.4 2152.0 953.1 2153.0 950.8 2154.0 948.3 2155.0 946.2 2155.6 945.4 2156.0 944.9 2157.0 944.1 2158.0 943.4 2159.0 942.5 2160.0 941.2 2160.2 940.9 2161.0 939.4 2162.0 936.9 2163.0 934.1 2163.9 932.1 2164.0 931.9 2165.0 930.0 2166.0 928.4 2166.7 927.6 2167.0 927.8 2168.0 928.9 2169.0 930.5 2170.0 931.8 2170.3 932.0 2171.0 931.5 2172.0 930.2 2173.0 929.3 2173.1 929.3 2174.0 930.1 2175.0 933.1 2176.0 935.5 2176.4 935.8 2177.0 935.3 2178.0 932.8 2179.0 930.4 2179.5 930.4 2180.0 930.5 2181.0 932.0 2182.0 933.8 2183.0 934.7 2183.2 934.6 2184.0 934.1 2185.0 932.3 2186.0 930.4 2186.9 929.5 2187.0 929.5 2188.0 930.7 2189.0 933.3 2189.6 935.0 2190.0 936.2 2191.0 940.4 2191.8 946.1 2192.0 949.6 2193.0 992.8 2193.6 1007.5 2194.0 1005.9 2195.0 992.1 2196.0 975.0 2196.9 967.5 2197.0 967.7 2198.0 977.3 2198.8 990.1 2199.0 993.9 2200.0 1023.2 2201.0 1041.6 2202.0 1033.0 2203.0 1015.4 2203.4 1008.5 2204.0 996.2 2204.7 984.6 2205.0 982.6 2206.0 977.9 2207.0 974.7 2208.0 971.6 2209.0 968.4 2210.0 965.2 2211.0 961.6 2211.3 960.4 2212.0 956.3 2213.0 949.9 2213.5 948.9 2214.0 949.4 2215.0 950.1 2216.0 950.6 2216.2 950.4 2217.0 947.3 2218.0 940.2 2219.0 936.5 2220.0 938.8 2221.0 943.2 2221.7 945.1 2222.0 945.3 2223.0 944.6 2224.0 943.4 2225.0 942.4 2225.4 942.1 2226.0 942.2 2227.0 942.9 2228.0 944.2 2229.0 945.8 2230.0 947.5 2231.0 949.7 2232.0 952.4 2233.0 954.6 2233.7 955.1 2234.0 955.1 2235.0 954.1 2236.0 952.9 2236.4 952.7 2237.0 952.8 2238.0 953.4 2239.0 954.7 2240.0 956.9 2241.0 959.8"/>
<path stroke="#0f0" d="M280.0 1115.8L281.0 1114.5 282.0 1114.1 283.0 1114.4 283.2 1114.4 284.0 1115.1 285.0 1117.3 286.0 1119.2 286.4 1119.4 287.0 1118.9 288.0 1117.1 289.0 1115.4 289.2 1115.3 290.0 1114.8 291.0 1114.2 292.0 1113.8 293.0 1113.6 294.0 1113.6 294.2 1113.6 295.0 1114.4 296.0 1116.1 297.0 1117.1 298.0 1117.0 299.0 1116.8 299.7 1117.0 300.0 1117.0 301.0 1117.6 302.0 1118.1 303.0 1118.2 303.4 1118.1 304.0 1117.9 305.0 1117.6 306.0 1117.0 307.0 1116.5 307.5 1116.2 308.0 1116.0 309.0 1115.1 310.0 1114.2 310.7 1113.9 311.0 1113.8 312.0 1113.9 313.0 1114.3 314.0 1114.8 314.9 1114.9 315.0 1114.8 316.0 1115.5 317.0 1116.7 317.6 1116.9 318.0 1116.8 319.0 1116.5 320.0 1116.1 320.4 1116.1 321.0 1116.5 322.0 1117.5 323.0 1118.5 324.0 1119.0 324.5 1119.0 325.0 1118.5 326.0 1116.8 327.0 1114.5 328.0 1112.5 329.0 1111.4 329.1 1111.4 330.0 1112.6 331.0 1115.0 332.0 1116.7 332.3 1116.7 333.0 1116.2 334.0 1114.2 335.0 1112.2 335.5 1111.7 336.0 1112.0 337.0 1114.1 338.0 1116.4 338.7 1116.9 339.0 1116.9 340.0 1116.5 341.0 1115.6 342.0 1114.9 342.4 1114.8 343.0 1115.2 344.0 1116.9 344.7 1117.8 345.0 1117.8 346.0 1117.0 347.0 1116.1 347.5 1116.0 348.0 1116.2 349.0 1117.8 350.0 1120.0 351.0 1121.2 351.1 1121.2 352.0 1120.8 353.0 1120.6 354.0 1120.5 355.0 1120.2 356.0 1119.8 356.2 1119.7 357.0 1119.4 358.0 1119.0 359.0 1118.6 359.9 1118.4 360.0 1118.4 361.0 1117.9 362.0 1117.4 363.0 1117.3 363.1 1117.4 364.0 1118.3 365.0 1120.2 366.0 1121.5 366.3 1121.6 367.0 1120.6 368.0 1117.5 369.0 1114.9 370.0 1113.9 371.0 1113.4 372.0 1113.3 372.2 1113.3 373.0 1114.0 374.0 1116.0 375.0 1118.2 375.9 1118.8 376.0 1118.9 377.0 1118.2 378.0 1116.9 379.0 1115.9 379.1 1115.9 380.0 1116.4 381.0 1117.5 382.0 1118.7 383.0 1119.7 383.7 1120.1 384.0 1120.0 385.0 1118.2 386.0 1116.0 386.9 1115.0 387.0 1115.0 388.0 1115.7 389.0 1116.9 389.7 1117.2 390.0 1117.1 391.0 1115.8 391.5 1115.6 392.0 1116.2 393.0 1118.5 393.8 1119.8 394.0 1119.6 395.0 1117.7 396.0 1115.3 397.0 1114.1 398.0 1114.9 399.0 1116.6 400.0 1117.8 400.2 1117.8 401.0 1118.0 402.0 1118.4 403.0 1118.7 404.0 1118.6 405.0 1118.7 405.7 1118.9 406.0 1118.9 407.0 1118.5 408.0 1117.3 409.0 1115.8 410.0 1114.5 411.0 1113.7 411.7 1113.5 412.0 1113.7 413.0 1115.1 414.0 1116.7 414.9 1117.4 415.0 1117.4 416.0 1116.7 417.0 1115.9 417.7 1115.8 418.0 1115.9 419.0 1116.7 420.0 1117.6 420.9 1117.6 421.0 1117.6 422.0 1116.8 423.0 1116.0 423.2 1116.1 424.0 1116.9 425.0 1118.1 426.0 1119.2 427.0 1119.9 427.8 1119.8 428.0 1119.7 429.0 1119.2 430.0 1118.6 431.0 1118.3 432.0 1118.9 433.0 1119.9 434.0 1120.5 434.2 1120.5 435.0 1119.5 436.0 1116.9 437.0 1114.8 437.4 1114.6 438.0 1114.5 439.0 1114.5 440.0 1114.7 441.0 1114.7 441.5 1114.7 442.0 1114.8 443.0 1115.4 444.0 1116.2 445.0 1117.1 446.0 1118.0 447.0 1118.9 448.0 1119.5 448.9 1119.6 449.0 1119.5 450.0 1118.0 451.0 1116.2 451.6 1116.0 452.0 1116.2 453.0 1117.7 453.9 1118.5 454.0 1118.4 455.0 1117.2 456.0 1115.5 456.7 1114.9 457.0 1115.0 458.0 1115.9 459.0 1116.6 460.0 1115.1 461.0 1113.0 461.3 1113.0 462.0 1113.6 463.0 1115.1 464.0 1116.6 464.5 1117.0 465.0 1117.3 466.0 1117.5 467.0 1117.6 468.0 1117.9 468.2 1118.0 469.0 1118.7 470.0 1120.1 471.0 1121.4 471.8 1121.9 472.0 1121.8 473.0 1120.5 474.0 1118.6 475.0 1117.3 476.0 1117.8 477.0 1119.2 478.0 1120.2 478.3 1120.2 479.0 1120.2 480.0 1119.7 481.0 1119.1 482.0 1118.5 482.8 1118.4 483.0 1118.5 484.0 1119.3 485.0 1120.4 486.0 1121.3 486.9 1121.9 487.0 1121.9 488.0 1121.4 489.0 1120.2 490.0 1118.8 491.0 1117.9 491.5 1117.8 492.0 1118.1 493.0 1119.9 494.0 1121.8 494.7 1122.2 495.0 1122.0 496.0 1121.1 497.0 1120.4 498.0 1119.8 498.4 1119.7 499.0 1119.5 500.0 1119.3 501.0 1119.0 502.0 1118.7 503.0 1118.5 503.9 1118.6 504.0 1118.6 505.0 1118.3 506.0 1117.6 507.0 1116.8 508.0 1116.2 509.0 1117.3 510.0 1120.1 511.0 1122.3 511.2 1122.4 512.0 1122.2 513.0 1121.3 514.0 1120.3 515.0 1119.4 516.0 1118.8 517.0 1118.4 517.2 1118.4 518.0 1118.6 519.0 1119.8 520.0 1121.2 521.0 1122.1 521.3 1122.2 522.0 1122.0 523.0 1120.4 524.0 1118.4 525.0 1117.3 526.0 1117.8 527.0 1118.9 527.7 1119.5 528.0 1119.5 529.0 1118.7 530.0 1117.4 531.0 1116.3 531.9 1115.9 532.0 1115.9 533.0 1116.9 534.0 1118.6 535.0 1119.5 535.1 1119.5 536.0 1119.2 537.0 1118.6 538.0 1118.2 538.3 1118.2 539.0 1118.3 540.0 1118.6 541.0 1118.9 542.0 1119.2 542.4 1119.3 543.0 1119.6 544.0 1119.0 545.0 1118.2 546.0 1117.8 546.1 1117.8 547.0 1118.0 548.0 1118.7 549.0 1119.3 550.0 1119.6 550.7 1119.7 551.0 1119.6 552.0 1119.0 553.0 1117.9 553.9 1117.6 554.0 1117.6 555.0 1119.0 556.0 1120.9 556.6 1121.4 557.0 1121.2 558.0 1119.7 559.0 1117.8 560.0 1116.4 560.3 1116.2 561.0 1116.3 562.0 1116.9 563.0 1117.6 564.0 1118.1 565.0 1118.5 565.4 1118.7 566.0 1118.9 567.0 1119.1 568.0 1118.9 569.0 1118.3 570.0 1117.4 570.4 1117.1 571.0 1117.3 572.0 1118.5 573.0 1120.3 574.0 1121.8 575.0 1122.7 576.0 1121.6 577.0 1119.5 577.8 1118.9 578.0 1118.9 579.0 1119.0 580.0 1119.7 581.0 1120.5 582.0 1121.3 582.8 1121.4 583.0 1121.4 584.0 1120.5 585.0 1119.3 586.0 1118.4 586.5 1118.3 587.0 1118.6 588.0 1119.1 589.0 1119.3 590.0 1118.7 591.0 1118.1 591.5 1118.1 592.0 1118.9 592.9 1120.4 593.0 1120.4 594.0 1120.3 595.0 1119.4 596.0 1118.6 597.0 1118.5 597.5 1118.7 598.0 1118.8 599.0 1118.8 600.0 1119.0 601.0 1119.2 602.0 1119.6 603.0 1120.1 604.0 1120.6 604.8 1120.9 605.0 1120.9 606.0 1120.8 607.0 1120.3 608.0 1119.6 608.5 1119.3 609.0 1119.0 610.0 1118.6 611.0 1118.4 612.0 1118.1 613.0 1117.7 613.5 1117.6 614.0 1117.7 615.0 1118.8 616.0 1120.3 617.0 1121.5 617.7 1121.9 618.0 1121.9 619.0 1122.1 620.0 1122.0 621.0 1121.6 622.0 1121.1 623.0 1120.6 623.2 1120.5 624.0 1120.0 625.0 1119.1 626.0 1118.4 626.9 1118.1 627.0 1118.1 628.0 1118.0 629.0 1118.1 630.0 1118.1 631.0 1118.1 631.4 1118.0 632.0 1118.3 633.0 1119.6 634.0 1120.8 634.7 1121.0 635.0 1120.9 636.0 1121.0 637.0 1121.0 638.0 1120.6 638.8 1120.0 639.0 1119.9 640.0 1119.2 641.0 1118.8 642.0 1118.5 643.0 1117.9 644.0 1117.2 645.0 1116.9 645.7 1116.9 646.0 1117.0 647.0 1117.3 648.0 1117.9 649.0 1118.8 649.8 1119.3 650.0 1119.4 651.0 1119.8 652.0 1120.3 653.0 1120.7 654.0 1121.1 655.0 1121.2 656.0 1120.9 656.2 1120.8 657.0 1120.2 658.0 1119.5 659.0 1119.1 660.0 1119.0 661.0 1118.8 661.3 1118.7 662.0 1118.6 663.0 1118.2 664.0 1117.8 665.0 1117.3 665.4 1117.0 666.0 1117.1 667.0 1118.3 668.0 1120.0 669.0 1121.4 669.1 1121.4 670.0 1121.7 671.0 1121.5 672.0 1120.8 672.7 1120.4 673.0 1120.2 674.0 1120.0 675.0 1120.2 676.0 1120.5 676.4 1120.6 677.0 1120.6 678.0 1120.2 679.0 1119.7 680.0 1119.5 681.0 1119.4 682.0 1119.0 683.0 1118.5 684.0 1118.1 684.1 1118.0 685.0 1117.7 686.0 1117.9 687.0 1118.5 688.0 1119.3 689.0 1120.2 690.0 1120.8 691.0 1121.2 692.0 1121.0 693.0 1120.4 694.0 1119.8 695.0 1119.2 696.0 1118.6 697.0 1118.0 697.9 1117.8 698.0 1117.8 699.0 1118.3 700.0 1119.4 701.0 1120.3 701.6 1120.4 702.0 1120.3 703.0 1119.3 704.0 1118.4 704.3 1118.3 705.0 1118.9 706.0 1120.3 707.0 1121.8 707.5 1122.2 708.0 1122.4 709.0 1122.5 710.0 1122.2 711.0 1121.6 711.2 1121.5 712.0 1121.0 713.0 1120.5 714.0 1120.2 715.0 1120.1 715.3 1120.1 716.0 1120.4 717.0 1121.3 718.0 1122.1 718.1 1122.2 719.0 1121.7 720.0 1120.6 721.0 1119.4 721.3 1119.2 722.0 1119.0 723.0 1119.0 724.0 1118.9 725.0 1118.7 725.4 1118.7 726.0 1118.9 727.0 1119.7 728.0 1120.6 729.0 1121.3 729.6 1121.4 730.0 1121.1 731.0 1119.8 731.9 1119.1 732.0 1119.1 733.0 1119.8 734.0 1121.2 735.0 1121.9 735.1 1121.9 736.0 1121.5 737.0 1120.4 738.0 1119.6 738.3 1119.5 739.0 1120.1 740.0 1121.3 741.0 1122.5 741.5 1122.8 742.0 1122.8 743.0 1122.4 744.0 1122.0 744.7 1121.9 745.0 1121.9 746.0 1123.6 747.0 1125.6 747.5 1126.0 748.0 1125.8 749.0 1125.0 750.0 1124.1 750.7 1123.9 751.0 1123.9 752.0 1124.0 753.0 1123.8 753.9 1123.6 754.0 1123.6 755.0 1125.5 756.0 1127.6 756.2 1127.8 757.0 1128.0 758.0 1127.8 759.0 1127.2 759.9 1126.8 760.0 1126.8 761.0 1128.0 762.0 1129.7 763.0 1130.8 763.1 1130.8 764.0 1130.7 765.0 1130.4 765.8 1130.4 766.0 1130.5 767.0 1131.8 768.0 1133.5 768.6 1134.0 769.0 1134.1 770.0 1134.4 771.0 1134.7 772.0 1134.9 773.0 1134.8 773.2 1134.8 774.0 1134.2 775.0 1133.0 776.0 1132.3 776.4 1132.3 777.0 1132.7 778.0 1133.3 779.0 1133.7 779.6 1133.6 780.0 1133.3 781.0 1131.6 782.0 1129.7 782.8 1128.7 783.0 1128.6 784.0 1128.7 785.0 1129.2 786.0 1129.6 787.0 1129.9 788.0 1130.4 788.3 1130.5 789.0 1130.9 790.0 1131.1 791.0 1130.9 792.0 1130.7 792.9 1130.8 793.0 1130.9 794.0 1131.5 795.0 1132.1 796.0 1132.2 796.1 1132.1 797.0 1131.4 798.0 1130.3 799.0 1129.7 799.3 1129.7 800.0 1129.9 801.0 1130.4 802.0 1130.6 803.0 1130.5 804.0 1130.2 804.8 1129.9 805.0 1129.9 806.0 1130.4 807.0 1131.4 808.0 1132.3 808.5 1132.4 809.0 1132.2 810.0 1131.5 811.0 1130.7 812.0 1129.9 813.0 1129.3 813.1 1129.2 814.0 1128.8 815.0 1128.2 816.0 1127.6 817.0 1127.2 817.2 1127.2 818.0 1126.8 819.0 1126.2 820.0 1126.0 821.0 1126.2 821.8 1126.2 822.0 1126.2 823.0 1126.3 824.0 1126.6 824.6 1126.5 825.0 1126.4 826.0 1125.8 827.0 1125.2 827.8 1125.2 828.0 1125.2 829.0 1125.5 830.0 1125.8 831.0 1126.2 832.0 1126.6 832.4 1126.6 833.0 1126.7 834.0 1127.0 835.0 1127.4 835.1 1127.4 836.0 1127.0 837.0 1125.9 837.9 1125.1 838.0 1125.1 839.0 1126.1 840.0 1127.6 840.6 1128.0 841.0 1128.0 842.0 1127.6 843.0 1127.0 844.0 1126.8 844.3 1126.9 845.0 1127.1 846.0 1127.5 847.0 1128.0 848.0 1128.6 848.9 1129.0 849.0 1129.0 850.0 1129.2 851.0 1129.3 852.0 1129.4 853.0 1129.5 854.0 1128.9 855.0 1127.8 855.3 1127.5 856.0 1127.6 857.0 1128.5 858.0 1129.7 859.0 1130.8 860.0 1131.4 861.0 1131.4 862.0 1131.3 862.2 1131.3 863.0 1131.6 864.0 1132.2 865.0 1132.9 866.0 1133.3 866.3 1133.4 867.0 1133.4 868.0 1133.7 869.0 1133.8 870.0 1133.8 871.0 1135.1 872.0 1137.3 872.7 1138.3 873.0 1138.5 874.0 1139.0 875.0 1139.3 876.0 1139.6 876.4 1139.8 877.0 1140.0 878.0 1140.5 879.0 1141.2 880.0 1142.2 881.0 1143.3 881.1 1143.4 882.0 1144.7 883.0 1146.8 884.0 1148.9 885.0 1150.6 885.7 1151.5 886.0 1151.8 887.0 1152.7 888.0 1153.3 889.0 1153.7 890.0 1154.1 891.0 1154.9 892.0 1155.6 892.1 1155.7 893.0 1156.5 894.0 1157.9 895.0 1159.6 896.0 1161.5 897.0 1163.2 897.6 1164.3 898.0 1165.0 899.0 1167.0 900.0 1169.7 900.4 1171.0 901.0 1173.9 902.0 1181.1 902.2 1182.7 903.0 1189.9 904.0 1201.1 904.2 1203.6 905.0 1214.6 906.0 1231.1 906.6 1243.2 907.0 1253.2 908.0 1284.6 908.2 1290.7 909.0 1315.4 909.8 1338.1 910.0 1342.9 911.0 1363.6 912.0 1383.4 912.1 1385.5 913.0 1410.9 914.0 1437.0 914.5 1441.4 915.0 1433.2 916.0 1396.3 916.1 1393.4 917.0 1371.3 917.7 1353.9 918.0 1345.1 919.0 1313.5 919.3 1306.5 920.0 1294.7 921.0 1281.8 921.6 1274.9 922.0 1270.3 923.0 1259.8 924.0 1251.0 925.0 1244.1 926.0 1238.2 927.0 1232.8 928.0 1227.4 929.0 1221.8 930.0 1216.3 931.0 1210.9 932.0 1205.6 932.7 1202.1 933.0 1200.5 934.0 1195.4 935.0 1190.2 936.0 1185.3 937.0 1180.8 937.5 1178.8 938.0 1176.9 939.0 1172.8 940.0 1169.4 941.0 1167.6 941.3 1167.5 942.0 1167.7 943.0 1168.4 944.0 1169.4 944.4 1169.9 945.0 1171.6 946.0 1176.8 946.5 1179.9 947.0 1183.2 948.0 1191.5 948.5 1197.0 949.0 1204.4 950.0 1225.1 950.1 1227.4 951.0 1252.0 951.7 1274.8 952.0 1284.8 953.0 1322.7 953.3 1338.1 954.0 1402.8 954.1 1405.1 955.0 1379.8 955.6 1353.9 956.0 1338.8 957.0 1298.7 957.2 1290.7 958.0 1255.2 958.8 1227.4 959.0 1223.5 960.0 1208.7 961.0 1197.9 961.2 1195.7 962.0 1187.3 962.8 1179.8 963.0 1178.0 964.0 1168.7 964.6 1165.1 965.0 1163.9 966.0 1161.4 967.0 1159.5 968.0 1158.0 969.0 1156.6 969.2 1156.3 970.0 1155.1 971.0 1153.7 972.0 1152.5 972.9 1151.5 973.0 1151.4 974.0 1150.0 975.0 1148.4 976.0 1146.8 977.0 1145.5 978.0 1144.4 978.4 1144.0 979.0 1143.4 980.0 1142.5 981.0 1142.0 982.0 1142.0 983.0 1142.5 984.0 1142.9 985.0 1143.0 985.7 1142.8 986.0 1142.6 987.0 1142.2 988.0 1142.1 989.0 1142.3 990.0 1142.5 991.0 1142.4 991.3 1142.3 992.0 1142.2 993.0 1142.7 994.0 1143.3 995.0 1143.6 996.0 1143.8 997.0 1144.0 997.7 1144.2 998.0 1144.4 999.0 1144.5 1000.0 1144.1 1001.0 1143.5 1002.0 1142.9 1002.3 1142.7 1003.0 1142.0 1004.0 1140.7 1005.0 1139.3 1006.0 1137.7 1007.0 1136.1 1008.0 1134.7 1009.0 1133.7 1009.6 1133.3 1010.0 1133.1 1011.0 1132.6 1012.0 1132.2 1013.0 1131.7 1014.0 1131.5 1015.0 1131.5 1016.0 1131.4 1017.0 1131.2 1018.0 1131.1 1018.8 1131.1 1019.0 1131.1 1020.0 1130.9 1021.0 1130.6 1022.0 1130.3 1023.0 1129.8 1024.0 1129.4 1025.0 1129.3 1026.0 1129.4 1027.0 1129.2 1028.0 1128.9 1029.0 1128.6 1030.0 1128.4 1031.0 1127.9 1032.0 1127.4 1033.0 1127.4 1034.0 1127.9 1035.0 1128.3 1036.0 1128.1 1037.0 1127.6 1037.1 1127.6 1038.0 1127.4 1039.0 1127.2 1040.0 1127.1 1041.0 1127.2 1042.0 1127.5 1043.0 1127.8 1044.0 1128.1 1045.0 1128.0 1046.0 1127.3 1047.0 1126.7 1048.0 1126.7 1049.0 1126.9 1050.0 1126.6 1051.0 1126.1 1052.0 1125.9 1053.0 1126.0 1054.0 1126.1 1055.0 1126.2 1055.5 1126.3 1056.0 1126.5 1057.0 1126.9 1058.0 1127.2 1059.0 1126.9 1060.0 1126.5 1061.0 1126.3 1062.0 1125.9 1063.0 1125.6 1064.0 1125.5 1065.0 1125.3 1066.0 1125.0 1067.0 1125.0 1068.0 1125.3 1069.0 1125.7 1070.0 1126.1 1071.0 1126.6 1072.0 1127.1 1073.0 1127.3 1074.0 1127.5 1075.0 1127.9 1076.0 1128.4 1077.0 1128.6 1078.0 1128.4 1079.0 1127.9 1080.0 1127.4 1080.1 1127.4 1081.0 1127.2 1082.0 1127.4 1083.0 1127.5 1084.0 1127.4 1085.0 1127.4 1086.0 1127.5 1087.0 1127.3 1088.0 1126.9 1089.0 1126.8 1090.0 1127.0 1091.0 1127.5 1092.0 1128.0 1093.0 1128.2 1094.0 1128.0 1095.0 1127.3 1096.0 1126.4 1097.0 1125.9 1098.0 1126.1 1099.0 1126.3 1100.0 1126.1 1101.0 1125.6 1102.0 1125.3 1103.0 1125.4 1104.0 1125.8 1105.0 1126.1 1106.0 1126.5 1107.0 1126.8 1108.0 1126.6 1109.0 1126.2 1110.0 1125.7 1111.0 1125.3 1112.0 1125.0 1113.0 1124.6 1114.0 1123.9 1115.0 1123.4 1116.0 1123.2 1117.0 1123.3 1118.0 1123.5 1119.0 1123.7 1120.0 1123.7 1121.0 1123.6 1122.0 1123.7 1123.0 1123.9 1124.0 1124.2 1125.0 1124.3 1125.1 1124.3 1126.0 1124.2 1127.0 1124.2 1128.0 1124.5 1129.0 1124.8 1130.0 1124.7 1131.0 1124.2 1132.0 1123.7 1133.0 1123.5 1134.0 1123.5 1135.0 1123.6 1136.0 1123.6 1137.0 1123.4 1138.0 1123.2 1139.0 1123.2 1140.0 1123.4 1141.0 1123.9 1142.0 1124.3 1143.0 1124.4 1144.0 1124.2 1145.0 1123.7 1146.0 1123.3 1147.0 1123.3 1148.0 1123.7 1149.0 1123.9 1150.0 1123.7 1151.0 1123.2 1152.0 1123.2 1153.0 1123.7 1154.0 1124.3 1155.0 1124.2 1156.0 1123.7 1157.0 1123.2 1158.0 1123.2 1159.0 1123.4 1160.0 1123.4 1161.0 1123.4 1162.0 1123.3 1163.0 1123.1 1164.0 1122.6 1165.0 1122.5 1166.0 1123.0 1167.0 1123.7 1168.0 1124.3 1169.0 1124.7 1170.0 1124.7 1171.0 1124.2 1172.0 1123.6 1173.0 1123.4 1174.0 1123.3 1175.0 1123.1 1176.0 1122.8 1177.0 1122.7 1178.0 1123.2 1179.0 1124.0 1180.0 1124.4 1180.1 1124.4 1181.0 1124.4 1182.0 1123.9 1183.0 1123.3 1184.0 1123.1 1185.0 1123.3 1186.0 1123.5 1187.0 1123.7 1188.0 1123.6 1189.0 1123.4 1190.0 1123.5 1191.0 1123.8 1192.0 1124.2 1193.0 1124.3 1194.0 1123.9 1195.0 1123.4 1196.0 1123.5 1197.0 1123.6 1198.0 1123.4 1199.0 1123.2 1200.0 1123.1 1201.0 1123.3 1202.0 1123.9 1203.0 1124.4 1204.0 1124.3 1205.0 1124.2 1206.0 1124.2 1207.0 1124.4 1208.0 1124.4 1209.0 1124.4 1210.0 1124.5 1211.0 1124.7 1212.0 1124.8 1213.0 1124.9 1214.0 1125.0 1215.0 1125.1 1216.0 1124.7 1217.0 1124.1 1218.0 1123.6 1219.0 1123.7 1220.0 1124.3 1221.0 1124.8 1222.0 1125.1 1223.0 1124.8 1224.0 1124.2 1225.0 1123.9 1226.0 1124.1 1227.0 1124.2 1228.0 1124.2 1229.0 1124.1 1230.0 1124.2 1231.0 1124.7 1232.0 1125.1 1233.0 1125.5 1233.4 1125.5 1234.0 1124.9 1235.0 1122.8 1236.0 1120.2 1237.0 1118.3 1237.4 1118.0 1238.0 1118.6 1239.0 1121.9 1240.0 1126.2 1241.0 1129.7 1241.6 1130.8 1242.0 1130.4 1243.0 1127.7 1244.0 1123.9 1245.0 1121.3 1245.3 1121.0 1246.0 1121.1 1247.0 1121.9 1248.0 1123.1 1249.0 1124.3 1250.0 1125.1 1250.8 1125.4 1251.0 1125.5 1252.0 1125.4 1253.0 1124.6 1254.0 1123.5 1255.0 1122.6 1256.0 1122.2 1256.3 1122.1 1257.0 1122.3 1258.0 1123.5 1259.0 1125.1 1260.0 1126.4 1260.9 1126.8 1261.0 1126.9 1262.0 1126.2 1263.0 1124.6 1264.0 1123.4 1264.6 1123.3 1265.0 1123.4 1266.0 1123.4 1267.0 1123.3 1268.0 1123.2 1269.0 1123.1 1270.0 1123.5 1271.0 1124.3 1272.0 1125.1 1273.0 1125.5 1274.0 1125.6 1275.0 1125.4 1275.6 1125.3 1276.0 1125.2 1277.0 1125.4 1278.0 1126.0 1279.0 1126.6 1280.0 1126.6 1281.0 1126.3 1282.0 1126.0 1283.0 1125.7 1284.0 1125.5 1285.0 1125.5 1286.0 1125.5 1287.0 1125.2 1288.0 1124.7 1289.0 1124.5 1290.0 1124.4 1291.0 1124.2 1292.0 1124.1 1293.0 1123.9 1294.0 1123.8 1295.0 1123.7 1296.0 1123.7 1297.0 1123.5 1298.0 1123.3 1299.0 1122.9 1300.0 1122.3 1301.0 1121.8 1302.0 1121.9 1303.0 1122.7 1304.0 1123.5 1305.0 1123.8 1306.0 1123.5 1307.0 1122.7 1308.0 1121.7 1309.0 1121.3 1310.0 1121.3 1311.0 1121.5 1312.0 1121.3 1313.0 1121.2 1314.0 1121.2 1315.0 1121.3 1316.0 1121.5 1317.0 1121.6 1318.0 1121.8 1319.0 1122.1 1320.0 1122.2 1321.0 1122.3 1322.0 1122.4 1323.0 1122.4 1324.0 1122.1 1325.0 1121.6 1326.0 1121.3 1327.0 1121.2 1328.0 1121.4 1329.0 1121.7 1330.0 1122.0 1331.0 1122.3 1332.0 1122.3 1333.0 1122.0 1334.0 1121.6 1335.0 1121.1 1336.0 1121.2 1337.0 1122.1 1338.0 1122.7 1339.0 1122.7 1340.0 1122.6 1341.0 1122.5 1342.0 1122.3 1343.0 1121.8 1344.0 1121.7 1345.0 1122.0 1346.0 1122.6 1347.0 1122.8 1348.0 1122.5 1349.0 1121.9 1350.0 1121.3 1351.0 1121.1 1352.0 1121.3 1353.0 1121.6 1354.0 1121.9 1355.0 1122.4 1356.0 1122.7 1357.0 1122.7 1358.0 1122.6 1359.0 1122.7 1360.0 1122.7 1361.0 1122.6 1362.0 1122.4 1363.0 1122.4 1364.0 1122.5 1365.0 1122.3 1366.0 1121.7 1367.0 1121.4 1368.0 1121.9 1369.0 1122.6 1370.0 1123.2 1371.0 1123.3 1372.0 1123.1 1373.0 1122.8 1374.0 1122.7 1375.0 1122.7 1376.0 1122.7 1377.0 1122.4 1378.0 1122.6 1379.0 1123.2 1380.0 1123.8 1381.0 1123.9 1382.0 1123.8 1382.1 1123.8 1383.0 1123.6 1384.0 1123.4 1385.0 1123.2 1386.0 1123.1 1387.0 1123.0 1388.0 1122.9 1389.0 1122.8 1390.0 1122.3 1391.0 1121.8 1392.0 1121.7 1393.0 1122.2 1394.0 1122.6 1395.0 1123.0 1396.0 1123.3 1397.0 1123.5 1398.0 1123.8 1399.0 1123.9 1400.0 1123.6 1401.0 1123.2 1402.0 1122.9 1403.0 1122.9 1404.0 1123.2 1405.0 1123.6 1406.0 1123.5 1407.0 1123.1 1408.0 1122.9 1409.0 1122.9 1410.0 1122.9 1411.0 1122.9 1412.0 1122.8 1413.0 1122.8 1414.0 1123.0 1415.0 1123.4 1416.0 1123.6 1417.0 1123.6 1418.0 1123.9 1419.0 1124.0 1420.0 1123.9 1421.0 1123.8 1422.0 1123.6 1423.0 1123.3 1424.0 1123.2 1425.0 1123.2 1426.0 1123.0 1427.0 1122.7 1428.0 1122.7 1429.0 1123.2 1430.0 1123.7 1431.0 1124.0 1432.0 1124.3 1433.0 1124.5 1433.5 1124.5 1434.0 1124.4 1435.0 1124.4 1436.0 1124.8 1437.0 1125.5 1438.0 1126.3 1439.0 1127.0 1440.0 1127.2 1441.0 1127.3 1442.0 1127.2 1443.0 1127.1 1444.0 1126.9 1445.0 1126.4 1446.0 1126.0 1447.0 1126.2 1448.0 1126.4 1449.0 1126.3 1450.0 1126.1 1451.0 1126.4 1452.0 1126.8 1453.0 1126.6 1454.0 1126.0 1455.0 1125.8 1456.0 1126.0 1457.0 1126.3 1458.0 1126.4 1459.0 1126.6 1460.0 1126.7 1461.0 1126.5 1462.0 1126.3 1463.0 1126.0 1464.0 1125.7 1465.0 1125.7 1466.0 1126.1 1467.0 1126.1 1468.0 1125.8 1469.0 1125.6 1470.0 1125.7 1471.0 1125.9 1472.0 1126.0 1473.0 1126.2 1474.0 1126.3 1475.0 1125.9 1476.0 1125.3 1477.0 1124.8 1478.0 1125.0 1479.0 1125.9 1480.0 1126.6 1481.0 1126.8 1482.0 1126.7 1483.0 1126.7 1484.0 1126.5 1485.0 1126.1 1486.0 1125.8 1487.0 1125.8 1488.0 1125.8 1489.0 1125.7 1490.0 1125.9 1491.0 1126.2 1492.0 1126.4 1493.0 1126.3 1494.0 1126.1 1495.0 1125.8 1496.0 1125.9 1497.0 1126.2 1498.0 1126.4 1499.0 1126.2 1500.0 1126.0 1501.0 1125.7 1502.0 1125.5 1503.0 1125.4 1504.0 1125.8 1505.0 1126.3 1506.0 1126.7 1506.7 1126.9 1507.0 1127.0 1508.0 1127.3 1509.0 1127.2 1510.0 1126.6 1511.0 1125.9 1512.0 1125.7 1513.0 1125.7 1514.0 1125.7 1515.0 1125.6 1516.0 1125.7 1517.0 1126.0 1518.0 1126.1 1519.0 1126.1 1520.0 1125.8 1521.0 1125.6 1522.0 1125.8 1523.0 1126.1 1524.0 1126.4 1525.0 1126.7 1526.0 1126.9 1527.0 1127.1 1528.0 1126.8 1529.0 1126.5 1530.0 1126.5 1531.0 1126.9 1532.0 1127.0 1533.0 1127.0 1534.0 1127.2 1535.0 1127.5 1536.0 1127.7 1537.0 1127.5 1538.0 1127.4 1539.0 1127.6 1540.0 1127.5 1541.0 1127.1 1542.0 1126.7 1543.0 1126.6 1543.4 1126.6 1544.0 1126.7 1545.0 1126.8 1546.0 1127.1 1547.0 1127.2 1548.0 1127.0 1549.0 1127.0 1550.0 1127.1 1551.0 1127.5 1552.0 1128.0 1553.0 1128.4 1554.0 1128.6 1555.0 1128.5 1556.0 1128.2 1557.0 1127.9 1558.0 1128.1 1559.0 1128.4 1560.0 1128.6 1561.0 1128.8 1562.0 1129.2 1563.0 1129.6 1564.0 1129.8 1565.0 1129.6 1566.0 1129.3 1567.0 1129.2 1568.0 1129.2 1569.0 1129.3 1570.0 1129.4 1571.0 1129.5 1572.0 1129.3 1573.0 1129.1 1574.0 1129.1 1575.0 1129.5 1576.0 1129.9 1577.0 1129.9 1578.0 1129.8 1579.0 1129.4 1580.0 1129.0 1581.0 1129.1 1582.0 1129.3 1583.0 1129.3 1584.0 1129.0 1585.0 1129.0 1586.0 1129.2 1587.0 1129.6 1588.0 1130.0 1589.0 1130.2 1589.3 1130.1 1590.0 1129.9 1591.0 1129.7 1592.0 1129.7 1593.0 1130.1 1594.0 1130.6 1595.0 1131.4 1596.0 1132.4 1596.7 1132.9 1597.0 1133.1 1598.0 1134.2 1599.0 1136.1 1600.0 1138.4 1600.3 1139.2 1601.0 1141.4 1602.0 1145.6 1603.0 1150.3 1604.0 1155.2 1605.0 1160.8 1606.0 1167.1 1607.0 1173.4 1607.7 1177.2 1608.0 1178.8 1609.0 1184.6 1610.0 1190.3 1611.0 1194.6 1611.9 1195.9 1612.0 1196.0 1613.0 1195.5 1614.0 1193.6 1615.0 1190.8 1615.9 1188.0 1616.0 1187.7 1617.0 1182.3 1618.0 1174.9 1619.0 1167.6 1619.6 1164.3 1620.0 1162.6 1621.0 1158.3 1622.0 1154.5 1623.0 1151.0 1624.0 1148.3 1624.2 1147.8 1625.0 1146.2 1626.0 1144.2 1627.0 1142.4 1628.0 1140.6 1629.0 1139.2 1630.0 1138.2 1631.0 1137.5 1631.5 1137.4 1632.0 1137.4 1633.0 1137.4 1634.0 1137.1 1635.0 1136.6 1636.0 1135.9 1637.0 1135.5 1638.0 1135.7 1639.0 1136.1 1640.0 1136.2 1641.0 1135.9 1642.0 1135.2 1642.6 1134.8 1643.0 1134.5 1644.0 1134.1 1645.0 1134.0 1646.0 1134.0 1647.0 1134.1 1648.0 1134.2 1649.0 1134.2 1650.0 1134.3 1650.8 1134.5 1651.0 1134.6 1652.0 1135.2 1653.0 1136.1 1654.0 1137.2 1655.0 1138.0 1655.4 1138.0 1656.0 1137.8 1657.0 1137.3 1658.0 1136.8 1659.0 1136.5 1660.0 1136.4 1660.9 1136.9 1661.0 1136.9 1662.0 1137.2 1663.0 1136.8 1664.0 1136.3 1665.0 1136.3 1666.0 1136.4 1667.0 1136.4 1668.0 1136.3 1669.0 1136.2 1670.0 1136.4 1671.0 1137.1 1672.0 1137.8 1673.0 1138.2 1674.0 1138.4 1675.0 1138.6 1676.0 1139.0 1677.0 1139.2 1677.4 1139.1 1678.0 1139.3 1679.0 1140.2 1680.0 1141.6 1681.0 1143.0 1682.0 1143.5 1683.0 1143.3 1684.0 1143.1 1685.0 1142.9 1686.0 1142.7 1687.0 1142.7 1687.5 1143.0 1688.0 1143.4 1689.0 1144.2 1690.0 1144.7 1691.0 1144.8 1692.0 1144.8 1693.0 1144.9 1694.0 1145.4 1695.0 1147.1 1696.0 1150.1 1697.0 1153.3 1698.0 1155.9 1699.0 1157.4 1699.1 1157.4 1700.0 1158.0 1701.0 1158.0 1702.0 1157.2 1703.0 1156.1 1704.0 1154.8 1705.0 1153.7 1706.0 1152.6 1707.0 1151.0 1708.0 1148.9 1708.6 1147.7 1709.0 1146.8 1710.0 1143.8 1711.0 1140.4 1712.0 1137.8 1712.3 1137.4 1713.0 1136.6 1714.0 1135.7 1715.0 1135.0 1716.0 1134.6 1716.9 1134.7 1717.0 1134.8 1718.0 1134.8 1719.0 1134.6 1720.0 1134.2 1721.0 1133.6 1722.0 1133.2 1723.0 1133.1 1724.0 1133.3 1725.0 1133.2 1726.0 1132.9 1727.0 1132.8 1728.0 1133.2 1729.0 1133.8 1730.0 1134.2 1731.0 1134.4 1732.0 1134.7 1733.0 1135.3 1734.0 1136.2 1734.3 1136.4 1735.0 1136.9 1736.0 1137.4 1737.0 1138.2 1738.0 1139.0 1738.9 1139.6 1739.0 1139.6 1740.0 1139.4 1741.0 1138.7 1742.0 1137.9 1743.0 1137.5 1743.5 1137.5 1744.0 1137.6 1745.0 1138.3 1746.0 1139.4 1747.0 1141.0 1748.0 1142.8 1749.0 1144.7 1749.9 1146.4 1750.0 1146.5 1751.0 1147.9 1752.0 1148.8 1753.0 1149.6 1754.0 1150.6 1754.5 1151.4 1755.0 1153.0 1756.0 1160.0 1756.4 1164.2 1757.0 1182.1 1757.8 1210.1 1758.0 1213.4 1759.0 1227.0 1759.7 1230.7 1760.0 1229.5 1761.0 1216.3 1762.0 1204.2 1762.2 1203.7 1763.0 1210.7 1764.0 1227.1 1764.1 1228.4 1765.0 1241.7 1765.9 1249.2 1766.0 1249.2 1767.0 1236.1 1768.0 1215.1 1768.3 1210.2 1769.0 1199.7 1769.6 1193.6 1770.0 1191.8 1771.0 1188.7 1772.0 1186.4 1772.9 1184.0 1773.0 1183.7 1774.0 1179.4 1775.0 1174.5 1776.0 1170.1 1776.6 1168.1 1777.0 1166.9 1778.0 1164.0 1779.0 1161.2 1780.0 1158.8 1781.0 1157.3 1782.0 1157.1 1782.1 1157.1 1783.0 1157.7 1784.0 1158.4 1785.0 1158.9 1785.7 1158.7 1786.0 1158.5 1787.0 1157.4 1788.0 1155.9 1789.0 1154.0 1790.0 1151.7 1791.0 1149.1 1792.0 1146.7 1793.0 1144.5 1794.0 1142.7 1795.0 1141.4 1795.8 1141.1 1796.0 1141.2 1797.0 1141.9 1798.0 1142.7 1799.0 1142.9 1800.0 1142.7 1800.4 1142.6 1801.0 1142.8 1802.0 1144.0 1803.0 1145.7 1804.0 1147.1 1805.0 1148.2 1805.9 1148.8 1806.0 1148.9 1807.0 1149.3 1808.0 1149.7 1809.0 1150.0 1809.6 1150.2 1810.0 1150.5 1811.0 1151.8 1812.0 1154.0 1813.0 1156.7 1814.0 1159.4 1815.0 1162.0 1815.2 1162.5 1816.0 1164.4 1817.0 1167.2 1818.0 1170.6 1818.8 1174.2 1819.0 1175.3 1820.0 1184.3 1821.0 1197.1 1821.4 1202.7 1822.0 1212.9 1823.0 1233.7 1823.2 1237.8 1824.0 1255.1 1824.9 1272.9 1825.0 1274.6 1826.0 1290.1 1827.0 1302.8 1827.6 1308.2 1828.0 1311.1 1829.0 1317.6 1830.0 1321.1 1830.2 1321.3 1831.0 1319.2 1832.0 1313.5 1832.8 1308.0 1833.0 1306.6 1834.0 1297.0 1835.0 1286.3 1835.5 1281.7 1836.0 1277.2 1837.0 1268.3 1838.0 1263.6 1838.1 1263.6 1839.0 1263.6 1840.0 1263.8 1841.0 1264.0 1842.0 1264.1 1842.5 1264.3 1843.0 1264.0 1844.0 1259.6 1845.0 1252.7 1845.1 1252.0 1846.0 1243.0 1847.0 1229.9 1847.8 1220.4 1848.0 1218.3 1849.0 1207.9 1850.0 1198.2 1851.0 1190.5 1851.3 1188.7 1852.0 1185.0 1853.0 1180.4 1854.0 1176.6 1855.0 1173.6 1855.7 1172.0 1856.0 1171.5 1857.0 1169.7 1858.0 1168.4 1859.0 1167.9 1859.2 1167.9 1860.0 1168.1 1861.0 1168.5 1862.0 1168.6 1862.7 1168.3 1863.0 1168.2 1864.0 1167.3 1865.0 1166.1 1866.0 1164.9 1867.0 1164.4 1867.1 1164.4 1868.0 1164.5 1869.0 1164.7 1870.0 1165.0 1871.0 1165.3 1872.0 1165.6 1873.0 1165.8 1873.2 1165.8 1874.0 1165.8 1875.0 1165.8 1876.0 1165.9 1877.0 1166.0 1878.0 1166.1 1879.0 1166.4 1880.0 1166.9 1881.0 1167.2 1882.0 1167.4 1883.0 1167.4 1883.7 1167.3 1884.0 1167.3 1885.0 1167.7 1886.0 1168.9 1887.0 1170.4 1888.0 1172.2 1889.0 1174.3 1890.0 1177.2 1891.0 1180.9 1892.0 1185.8 1892.5 1188.7 1893.0 1193.8 1894.0 1208.3 1894.3 1211.6 1895.0 1217.2 1896.0 1223.4 1897.0 1229.0 1897.8 1234.3 1898.0 1235.9 1899.0 1246.1 1900.0 1257.1 1901.0 1264.7 1901.3 1265.6 1902.0 1266.9 1903.0 1268.2 1904.0 1269.2 1905.0 1270.6 1905.7 1271.8 1906.0 1272.4 1907.0 1275.5 1908.0 1280.1 1908.3 1281.8 1909.0 1288.1 1910.0 1302.1 1911.0 1316.8 1912.0 1330.7 1913.0 1344.6 1913.6 1352.1 1914.0 1356.7 1915.0 1367.4 1916.0 1377.2 1917.0 1386.0 1917.1 1386.8 1918.0 1394.6 1919.0 1403.5 1920.0 1411.6 1921.0 1418.3 1922.0 1422.8 1922.4 1423.8 1923.0 1425.1 1924.0 1427.2 1925.0 1428.8 1926.0 1429.6 1926.8 1429.7 1927.0 1429.6 1928.0 1427.9 1929.0 1424.6 1930.0 1420.1 1931.0 1414.6 1931.2 1413.4 1932.0 1405.2 1933.0 1389.8 1933.8 1378.5 1934.0 1376.2 1935.0 1365.4 1936.0 1355.7 1936.4 1352.1 1937.0 1347.0 1938.0 1339.2 1939.0 1332.0 1939.9 1325.7 1940.0 1325.0 1941.0 1317.9 1942.0 1311.0 1943.0 1304.8 1943.4 1302.7 1944.0 1299.4 1945.0 1294.1 1946.0 1290.3 1946.6 1289.7 1947.0 1290.2 1948.0 1295.6 1949.0 1303.6 1949.6 1308.2 1950.0 1311.0 1951.0 1319.0 1952.0 1327.1 1953.0 1334.0 1953.1 1334.5 1954.0 1339.8 1955.0 1345.2 1956.0 1347.6 1956.1 1347.5 1957.0 1345.5 1958.0 1338.7 1959.0 1328.9 1959.3 1325.7 1960.0 1313.8 1961.0 1290.4 1962.0 1264.1 1962.8 1246.6 1963.0 1243.7 1964.0 1232.1 1965.0 1223.4 1965.4 1220.3 1966.0 1215.8 1967.0 1209.2 1968.0 1204.7 1969.0 1201.6 1970.0 1198.7 1971.0 1196.2 1972.0 1194.5 1973.0 1193.3 1973.3 1193.0 1974.0 1192.3 1975.0 1191.7 1976.0 1191.4 1977.0 1190.9 1977.7 1190.4 1978.0 1190.0 1979.0 1188.3 1980.0 1186.5 1980.3 1186.2 1981.0 1185.5 1982.0 1184.6 1983.0 1183.9 1984.0 1183.5 1985.0 1183.4 1985.6 1183.4 1986.0 1183.5 1987.0 1184.1 1988.0 1185.5 1989.0 1187.3 1990.0 1189.6 1990.9 1192.0 1991.0 1192.2 1992.0 1195.3 1993.0 1199.7 1993.5 1202.7 1994.0 1207.7 1995.0 1223.8 1995.3 1229.0 1996.0 1242.4 1997.0 1264.2 1998.0 1288.0 1998.8 1308.1 1999.0 1313.4 2000.0 1342.1 2000.5 1352.0 2001.0 1358.7 2002.0 1369.9 2003.0 1375.1 2003.1 1375.1 2004.0 1370.1 2005.0 1356.5 2005.8 1343.1 2006.0 1339.2 2007.0 1310.7 2007.5 1299.2 2008.0 1292.7 2008.8 1283.9 2009.0 1281.3 2010.0 1266.6 2010.5 1260.6 2011.0 1256.2 2012.0 1249.2 2012.9 1243.1 2013.0 1242.4 2014.0 1234.7 2015.0 1227.0 2015.2 1225.5 2016.0 1219.4 2017.0 1211.9 2017.6 1207.8 2018.0 1205.2 2019.0 1199.2 2019.9 1194.7 2020.0 1194.3 2021.0 1190.1 2022.0 1186.7 2022.2 1186.2 2023.0 1184.4 2024.0 1182.7 2025.0 1181.3 2025.2 1181.0 2026.0 1179.6 2027.0 1177.7 2028.0 1175.9 2029.0 1174.5 2029.3 1174.2 2030.0 1173.5 2031.0 1172.3 2032.0 1171.2 2032.8 1170.8 2033.0 1170.7 2034.0 1171.4 2035.0 1172.4 2035.1 1172.5 2036.0 1174.2 2037.0 1177.2 2038.0 1180.5 2039.0 1183.0 2039.8 1183.9 2040.0 1183.8 2041.0 1182.7 2042.0 1181.1 2043.0 1178.9 2043.3 1178.2 2044.0 1175.7 2045.0 1170.1 2046.0 1164.5 2046.8 1161.9 2047.0 1161.6 2048.0 1160.5 2049.0 1160.0 2049.8 1160.1 2050.0 1160.2 2051.0 1161.1 2052.0 1163.1 2053.0 1165.2 2053.9 1166.7 2054.0 1166.9 2055.0 1167.9 2056.0 1168.8 2057.0 1169.8 2058.0 1171.0 2058.5 1171.6 2059.0 1172.3 2060.0 1173.7 2060.3 1174.2 2061.0 1175.7 2062.0 1178.5 2063.0 1181.1 2064.0 1182.6 2064.4 1182.7 2065.0 1182.6 2066.0 1180.6 2067.0 1177.4 2068.0 1174.2 2069.0 1171.9 2069.1 1171.7 2070.0 1170.8 2071.0 1170.0 2072.0 1169.0 2073.0 1166.0 2074.0 1161.4 2074.9 1158.7 2075.0 1158.5 2076.0 1157.2 2077.0 1156.0 2078.0 1155.0 2079.0 1154.2 2079.6 1154.0 2080.0 1154.0 2081.0 1154.5 2082.0 1155.3 2082.6 1155.6 2083.0 1155.6 2084.0 1154.8 2085.0 1153.3 2086.0 1151.6 2087.0 1149.8 2088.0 1148.3 2089.0 1147.6 2090.0 1148.5 2091.0 1150.1 2092.0 1151.1 2092.5 1151.1 2093.0 1150.9 2094.0 1149.6 2095.0 1148.0 2096.0 1147.5 2097.0 1148.2 2098.0 1148.8 2099.0 1149.0 2099.5 1149.0 2100.0 1148.8 2101.0 1148.5 2102.0 1148.4 2102.5 1148.3 2103.0 1147.9 2104.0 1146.4 2105.0 1145.3 2105.4 1145.3 2106.0 1145.4 2107.0 1145.5 2108.0 1145.8 2109.0 1146.3 2110.0 1146.9 2110.1 1146.9 2111.0 1147.6 2112.0 1148.6 2113.0 1150.2 2114.0 1152.2 2114.8 1154.0 2115.0 1154.6 2116.0 1159.7 2117.0 1164.3 2117.1 1164.5 2118.0 1165.7 2119.0 1166.4 2120.0 1166.9 2120.6 1167.5 2121.0 1168.0 2122.0 1169.9 2123.0 1172.0 2124.0 1174.1 2124.1 1174.3 2125.0 1176.3 2126.0 1178.7 2127.0 1179.9 2128.0 1179.5 2129.0 1179.2 2130.0 1178.6 2131.0 1177.6 2132.0 1176.4 2133.0 1175.3 2133.5 1174.9 2134.0 1174.4 2135.0 1172.8 2136.0 1170.8 2137.0 1168.6 2138.0 1166.5 2138.2 1166.1 2139.0 1164.2 2140.0 1161.1 2141.0 1157.8 2142.0 1155.0 2143.0 1153.3 2143.4 1153.1 2144.0 1153.1 2145.0 1154.0 2146.0 1155.6 2147.0 1157.3 2147.5 1158.1 2148.0 1158.7 2149.0 1159.9 2150.0 1161.4 2151.0 1163.4 2152.0 1165.6 2152.2 1166.0 2153.0 1168.6 2154.0 1173.5 2155.0 1179.5 2155.2 1180.8 2156.0 1188.2 2157.0 1198.6 2157.5 1201.7 2158.0 1203.5 2159.0 1206.2 2159.5 1206.7 2160.0 1206.7 2161.0 1204.5 2161.6 1202.2 2162.0 1197.9 2163.0 1180.0 2163.3 1177.5 2164.0 1175.5 2165.0 1173.1 2166.0 1171.5 2167.0 1170.4 2167.7 1170.1 2168.0 1170.3 2169.0 1172.4 2170.0 1176.1 2171.0 1180.9 2172.0 1189.7 2172.7 1196.1 2173.0 1198.1 2174.0 1204.1 2174.5 1205.4 2175.0 1205.3 2176.0 1203.7 2177.0 1201.5 2178.0 1199.4 2179.0 1196.2 2179.7 1194.7 2180.0 1195.2 2181.0 1199.7 2181.5 1200.9 2182.0 1201.1 2183.0 1201.1 2184.0 1201.0 2185.0 1200.8 2186.0 1208.9 2186.2 1211.3 2187.0 1225.7 2187.4 1229.4 2188.0 1227.6 2189.0 1221.1 2189.1 1220.6 2190.0 1214.6 2190.6 1212.5 2191.0 1215.9 2192.0 1237.2 2193.0 1260.5 2193.8 1271.0 2194.0 1270.1 2195.0 1250.3 2195.6 1237.0 2196.0 1229.6 2197.0 1213.2 2197.3 1211.8 2198.0 1220.9 2199.0 1246.7 2199.1 1248.8 2200.0 1271.9 2201.0 1291.6 2201.2 1292.7 2202.0 1285.5 2203.0 1265.1 2203.2 1260.5 2204.0 1227.4 2204.3 1219.4 2205.0 1213.0 2206.0 1207.7 2207.0 1203.5 2207.3 1201.9 2208.0 1197.6 2209.0 1191.5 2209.6 1187.8 2210.0 1185.1 2211.0 1177.7 2211.9 1172.8 2212.0 1172.5 2213.0 1169.9 2214.0 1168.0 2215.0 1165.9 2215.5 1164.5 2216.0 1162.5 2217.0 1156.4 2218.0 1150.8 2218.7 1149.2 2219.0 1149.2 2220.0 1150.7 2221.0 1153.5 2222.0 1156.9 2222.5 1158.7 2223.0 1161.6 2224.0 1168.5 2224.2 1169.0 2225.0 1169.5 2226.0 1170.0 2227.0 1170.7 2227.8 1171.6 2228.0 1172.1 2229.0 1178.0 2229.5 1179.7 2230.0 1179.9 2231.0 1180.0 2232.0 1180.4 2233.0 1180.9 2234.0 1182.8 2235.0 1186.3 2235.4 1187.8 2236.0 1190.3 2237.0 1195.4 2237.1 1196.0 2238.0 1203.5 2238.9 1208.5 2239.0 1208.5 2240.0 1202.2 2240.6 1193.9"/>
</g>
<g stroke-width="3.9" stroke-linecap="round">
<line x1="333.8" y1="134.9" x2="499.3" y2="134.9" stroke="#000"/>
<line x1="333.8" y1="225.8" x2="499.3" y2="225.8" stroke="#f00"/>
<line x1="333.8" y1="316.6" x2="499.3" y2="316.6" stroke="#0f0"/>
</g>
<g transform="translate(520,160) scale(1,1.037)"><text class="reg" font-size="74.5" x="0">PE porous substrate</text></g>
<g transform="translate(520,251.8) scale(1,1.037)"><text class="reg" font-size="74.5" x="0">VBC:DMAEMA=1:1/ after quaternization</text><g fill="#fff"><rect x="548.73" y="-6.56" width="14.08" height="8.16"/><rect x="569.66" y="-6.56" width="13.71" height="8.16"/><rect x="610.85" y="-6.56" width="14.08" height="8.16"/><rect x="631.78" y="-6.56" width="13.71" height="8.16"/></g></g>
<g transform="translate(520,342.4) scale(1,1.037)"><text class="reg" font-size="74.5" x="0">Im-TFSI:DMAEMA=1:1/ after quaternization</text><g fill="#fff"><rect x="664.49" y="-6.56" width="14.08" height="8.16"/><rect x="685.42" y="-6.56" width="13.71" height="8.16"/><rect x="726.61" y="-6.56" width="14.08" height="8.16"/><rect x="747.54" y="-6.56" width="13.71" height="8.16"/></g></g>
<g transform="translate(0,1575) scale(1,1.03)"><text class="bold" font-size="80.2" x="279.9" text-anchor="middle">4000</text></g>
<g transform="translate(0,1575) scale(1,1.03)"><text class="bold" font-size="80.2" x="572.6" text-anchor="middle">3500</text></g>
<g transform="translate(0,1575) scale(1,1.03)"><text class="bold" font-size="80.2" x="865.3" text-anchor="middle">3000</text></g>
<g transform="translate(0,1575) scale(1,1.03)"><text class="bold" font-size="80.2" x="1157.9" text-anchor="middle">2500</text></g>
<g transform="translate(0,1575) scale(1,1.03)"><text class="bold" font-size="80.2" x="1450.6" text-anchor="middle">2000</text></g>
<g transform="translate(0,1575) scale(1,1.03)"><text class="bold" font-size="80.2" x="1743.3" text-anchor="middle">1500</text><g fill="#fff"><rect x="1658.13" y="-9.16" width="14.52" height="10.76"/><rect x="1683.95" y="-9.16" width="13.87" height="10.76"/></g></g>
<g transform="translate(0,1575) scale(1,1.03)"><text class="bold" font-size="80.2" x="2036.0" text-anchor="middle">1000</text><g fill="#fff"><rect x="1950.81" y="-9.16" width="14.52" height="10.76"/><rect x="1976.63" y="-9.16" width="13.87" height="10.76"/></g></g>
<g transform="translate(796.2,1744) scale(1,1.037)"><text class="bold" font-size="101.6" x="0">Wavenumber</text></g>
<g transform="translate(1459.8,1744) scale(0.885,1)"><text class="bold" font-size="101.6" x="0">(</text></g>
<g transform="translate(1492.4,1744) scale(1,1.037)"><text class="bold" font-size="101.6" x="0">cm</text></g>
<g transform="translate(1638.8,1694.9) scale(1,1.037)"><text class="bold" font-size="61" x="0">-1</text><g fill="#fff"><rect x="23.36" y="-7.18" width="11.04" height="8.78"/><rect x="43.00" y="-7.18" width="10.55" height="8.78"/></g></g>
<g transform="translate(1695.5,1744) scale(0.885,1)"><text class="bold" font-size="101.6" x="0">)</text></g>
<g transform="translate(114.2,1252) rotate(-90) scale(1,1.037)"><text class="bold" font-size="101" x="0">Transmittance</text></g>
<g transform="translate(114.2,538.40) rotate(-90) scale(0.885,1.01)"><text class="bold" font-size="101" x="0">(</text></g>
<g transform="translate(114.2,505.57) rotate(-90) scale(1,1.037)"><text class="bold" font-size="101" x="0">a.u</text></g>
<g transform="translate(114.2,356.40) rotate(-90) scale(0.885,1.01)"><text class="bold" font-size="101" x="0">)</text></g>

</svg>
</body></html>
